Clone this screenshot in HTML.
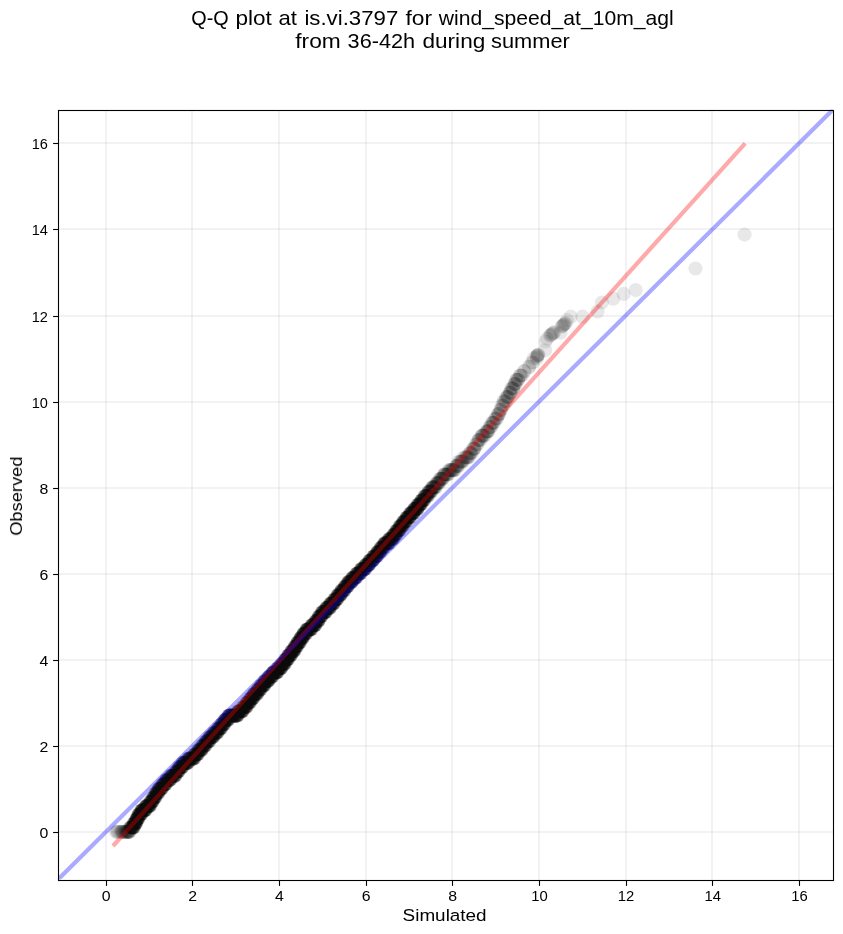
<!DOCTYPE html>
<html><head><meta charset="utf-8"><title>Q-Q plot</title>
<style>
html,body{margin:0;padding:0;background:#fff;}
body{width:843px;height:934px;overflow:hidden;}
svg{display:block;will-change:transform;}
text{font-family:"Liberation Sans",sans-serif;fill:#000;}
</style></head><body>
<svg width="843" height="934" viewBox="0 0 843 934">
<g id="title" opacity="0.999"><text x="191.28" y="24.7" font-size="19.8" textLength="37.43" lengthAdjust="spacingAndGlyphs">Q-Q</text><text x="235.47" y="24.7" font-size="19.8" textLength="36.32" lengthAdjust="spacingAndGlyphs">plot</text><text x="278.42" y="24.7" font-size="19.8" textLength="18.47" lengthAdjust="spacingAndGlyphs">at</text><text x="304.42" y="24.7" font-size="19.8" textLength="93.87" lengthAdjust="spacingAndGlyphs">is.vi.3797</text><text x="405.54" y="24.7" font-size="19.8" textLength="26.62" lengthAdjust="spacingAndGlyphs">for</text><text x="438.86" y="24.7" font-size="19.8" textLength="234.84" lengthAdjust="spacingAndGlyphs">wind_speed_at_10m_agl</text><text x="295.24" y="47.6" font-size="19.8" textLength="45.54" lengthAdjust="spacingAndGlyphs">from</text><text x="347.60" y="47.6" font-size="19.8" textLength="67.51" lengthAdjust="spacingAndGlyphs">36-42h</text><text x="422.48" y="47.6" font-size="19.8" textLength="62.81" lengthAdjust="spacingAndGlyphs">during</text><text x="491.05" y="47.6" font-size="19.8" textLength="78.77" lengthAdjust="spacingAndGlyphs">summer</text></g>
<clipPath id="ax"><rect x="58.0" y="109.54" width="775.0" height="770.0"/></clipPath>
<g stroke="#000" stroke-opacity="0.05" stroke-width="2"><line x1="106" y1="110.5" x2="106" y2="880.5"/><line x1="58.5" y1="832" x2="833.5" y2="832"/><line x1="192" y1="110.5" x2="192" y2="880.5"/><line x1="58.5" y1="746" x2="833.5" y2="746"/><line x1="279" y1="110.5" x2="279" y2="880.5"/><line x1="58.5" y1="660" x2="833.5" y2="660"/><line x1="366" y1="110.5" x2="366" y2="880.5"/><line x1="58.5" y1="574" x2="833.5" y2="574"/><line x1="452" y1="110.5" x2="452" y2="880.5"/><line x1="58.5" y1="488" x2="833.5" y2="488"/><line x1="539" y1="110.5" x2="539" y2="880.5"/><line x1="58.5" y1="402" x2="833.5" y2="402"/><line x1="626" y1="110.5" x2="626" y2="880.5"/><line x1="58.5" y1="316" x2="833.5" y2="316"/><line x1="712" y1="110.5" x2="712" y2="880.5"/><line x1="58.5" y1="229" x2="833.5" y2="229"/><line x1="799" y1="110.5" x2="799" y2="880.5"/><line x1="58.5" y1="143" x2="833.5" y2="143"/></g>
<g clip-path="url(#ax)">
<g id="pts" fill="#000" fill-opacity="0.09"><circle cx="115.8" cy="831.8" r="7.1"/><circle cx="117.5" cy="831.8" r="7.1"/><circle cx="117.6" cy="831.8" r="7.1"/><circle cx="119.4" cy="831.8" r="7.1"/><circle cx="121.2" cy="831.8" r="7.1"/><circle cx="121.5" cy="831.8" r="7.1"/><circle cx="122.1" cy="831.8" r="7.1"/><circle cx="122.5" cy="831.8" r="7.1"/><circle cx="123.0" cy="831.8" r="7.1"/><circle cx="124.2" cy="831.8" r="7.1"/><circle cx="124.2" cy="831.8" r="7.1"/><circle cx="125.3" cy="831.8" r="7.1"/><circle cx="126.0" cy="831.8" r="7.1"/><circle cx="126.1" cy="831.8" r="7.1"/><circle cx="126.9" cy="831.8" r="7.1"/><circle cx="127.1" cy="831.8" r="7.1"/><circle cx="127.2" cy="831.8" r="7.1"/><circle cx="127.8" cy="831.8" r="7.1"/><circle cx="127.9" cy="831.8" r="7.1"/><circle cx="128.4" cy="831.8" r="7.1"/><circle cx="128.6" cy="831.8" r="7.1"/><circle cx="129.1" cy="831.8" r="7.1"/><circle cx="129.2" cy="831.8" r="7.1"/><circle cx="129.3" cy="831.8" r="7.1"/><circle cx="129.8" cy="831.8" r="7.1"/><circle cx="130.2" cy="827.5" r="7.1"/><circle cx="130.2" cy="827.5" r="7.1"/><circle cx="130.3" cy="827.5" r="7.1"/><circle cx="130.6" cy="827.5" r="7.1"/><circle cx="131.0" cy="827.5" r="7.1"/><circle cx="131.2" cy="827.5" r="7.1"/><circle cx="131.3" cy="827.5" r="7.1"/><circle cx="131.6" cy="827.5" r="7.1"/><circle cx="131.7" cy="827.5" r="7.1"/><circle cx="131.7" cy="827.5" r="7.1"/><circle cx="131.8" cy="827.5" r="7.1"/><circle cx="132.2" cy="827.5" r="7.1"/><circle cx="132.3" cy="827.5" r="7.1"/><circle cx="132.4" cy="827.5" r="7.1"/><circle cx="132.5" cy="827.5" r="7.1"/><circle cx="132.8" cy="827.5" r="7.1"/><circle cx="133.0" cy="827.5" r="7.1"/><circle cx="133.1" cy="827.5" r="7.1"/><circle cx="133.2" cy="827.5" r="7.1"/><circle cx="133.4" cy="827.5" r="7.1"/><circle cx="133.6" cy="827.5" r="7.1"/><circle cx="133.6" cy="827.5" r="7.1"/><circle cx="133.7" cy="827.5" r="7.1"/><circle cx="133.8" cy="823.2" r="7.1"/><circle cx="134.0" cy="823.2" r="7.1"/><circle cx="134.0" cy="823.2" r="7.1"/><circle cx="134.2" cy="823.2" r="7.1"/><circle cx="134.4" cy="823.2" r="7.1"/><circle cx="134.4" cy="823.2" r="7.1"/><circle cx="134.6" cy="823.2" r="7.1"/><circle cx="134.7" cy="823.2" r="7.1"/><circle cx="134.9" cy="823.2" r="7.1"/><circle cx="135.0" cy="823.2" r="7.1"/><circle cx="135.2" cy="823.2" r="7.1"/><circle cx="135.3" cy="823.2" r="7.1"/><circle cx="135.3" cy="823.2" r="7.1"/><circle cx="135.5" cy="823.2" r="7.1"/><circle cx="135.6" cy="823.2" r="7.1"/><circle cx="135.7" cy="823.2" r="7.1"/><circle cx="135.8" cy="823.2" r="7.1"/><circle cx="135.9" cy="823.2" r="7.1"/><circle cx="135.9" cy="823.2" r="7.1"/><circle cx="136.1" cy="823.2" r="7.1"/><circle cx="136.3" cy="818.9" r="7.1"/><circle cx="136.4" cy="818.9" r="7.1"/><circle cx="136.5" cy="818.9" r="7.1"/><circle cx="136.6" cy="818.9" r="7.1"/><circle cx="136.8" cy="818.9" r="7.1"/><circle cx="136.8" cy="818.9" r="7.1"/><circle cx="136.9" cy="818.9" r="7.1"/><circle cx="137.0" cy="818.9" r="7.1"/><circle cx="137.1" cy="818.9" r="7.1"/><circle cx="137.2" cy="818.9" r="7.1"/><circle cx="137.3" cy="818.9" r="7.1"/><circle cx="137.4" cy="818.9" r="7.1"/><circle cx="137.5" cy="818.9" r="7.1"/><circle cx="137.7" cy="818.9" r="7.1"/><circle cx="137.8" cy="818.9" r="7.1"/><circle cx="138.1" cy="818.9" r="7.1"/><circle cx="138.1" cy="818.9" r="7.1"/><circle cx="138.2" cy="818.9" r="7.1"/><circle cx="138.4" cy="814.6" r="7.1"/><circle cx="138.4" cy="814.6" r="7.1"/><circle cx="138.8" cy="814.6" r="7.1"/><circle cx="138.9" cy="814.6" r="7.1"/><circle cx="139.0" cy="814.6" r="7.1"/><circle cx="139.0" cy="814.6" r="7.1"/><circle cx="139.3" cy="814.6" r="7.1"/><circle cx="139.4" cy="814.6" r="7.1"/><circle cx="139.5" cy="814.6" r="7.1"/><circle cx="139.7" cy="814.6" r="7.1"/><circle cx="139.8" cy="814.6" r="7.1"/><circle cx="139.8" cy="814.6" r="7.1"/><circle cx="140.0" cy="814.6" r="7.1"/><circle cx="140.1" cy="814.6" r="7.1"/><circle cx="140.2" cy="814.6" r="7.1"/><circle cx="140.5" cy="814.6" r="7.1"/><circle cx="140.6" cy="814.6" r="7.1"/><circle cx="140.8" cy="814.6" r="7.1"/><circle cx="140.9" cy="814.6" r="7.1"/><circle cx="141.0" cy="814.6" r="7.1"/><circle cx="141.0" cy="814.6" r="7.1"/><circle cx="141.2" cy="814.6" r="7.1"/><circle cx="141.5" cy="810.3" r="7.1"/><circle cx="141.6" cy="810.3" r="7.1"/><circle cx="141.7" cy="810.3" r="7.1"/><circle cx="141.8" cy="810.3" r="7.1"/><circle cx="141.8" cy="810.3" r="7.1"/><circle cx="142.0" cy="810.3" r="7.1"/><circle cx="142.1" cy="810.3" r="7.1"/><circle cx="142.5" cy="810.3" r="7.1"/><circle cx="142.5" cy="810.3" r="7.1"/><circle cx="142.5" cy="810.3" r="7.1"/><circle cx="142.7" cy="810.3" r="7.1"/><circle cx="142.8" cy="810.3" r="7.1"/><circle cx="142.9" cy="810.3" r="7.1"/><circle cx="143.2" cy="810.3" r="7.1"/><circle cx="143.4" cy="810.3" r="7.1"/><circle cx="143.4" cy="810.3" r="7.1"/><circle cx="143.5" cy="810.3" r="7.1"/><circle cx="143.8" cy="810.3" r="7.1"/><circle cx="144.0" cy="810.3" r="7.1"/><circle cx="144.0" cy="810.3" r="7.1"/><circle cx="144.0" cy="810.3" r="7.1"/><circle cx="144.1" cy="810.3" r="7.1"/><circle cx="144.3" cy="810.3" r="7.1"/><circle cx="144.7" cy="810.3" r="7.1"/><circle cx="144.7" cy="810.3" r="7.1"/><circle cx="144.9" cy="810.3" r="7.1"/><circle cx="144.9" cy="810.3" r="7.1"/><circle cx="145.1" cy="810.3" r="7.1"/><circle cx="145.3" cy="810.3" r="7.1"/><circle cx="145.5" cy="810.3" r="7.1"/><circle cx="145.6" cy="810.3" r="7.1"/><circle cx="145.6" cy="806.0" r="7.1"/><circle cx="145.9" cy="806.0" r="7.1"/><circle cx="146.0" cy="806.0" r="7.1"/><circle cx="146.2" cy="806.0" r="7.1"/><circle cx="146.2" cy="806.0" r="7.1"/><circle cx="146.5" cy="806.0" r="7.1"/><circle cx="146.7" cy="806.0" r="7.1"/><circle cx="146.8" cy="806.0" r="7.1"/><circle cx="146.9" cy="806.0" r="7.1"/><circle cx="147.1" cy="806.0" r="7.1"/><circle cx="147.1" cy="806.0" r="7.1"/><circle cx="147.3" cy="806.0" r="7.1"/><circle cx="147.5" cy="806.0" r="7.1"/><circle cx="147.7" cy="806.0" r="7.1"/><circle cx="147.8" cy="806.0" r="7.1"/><circle cx="148.0" cy="806.0" r="7.1"/><circle cx="148.2" cy="806.0" r="7.1"/><circle cx="148.3" cy="806.0" r="7.1"/><circle cx="148.4" cy="806.0" r="7.1"/><circle cx="148.4" cy="806.0" r="7.1"/><circle cx="148.6" cy="806.0" r="7.1"/><circle cx="148.9" cy="806.0" r="7.1"/><circle cx="149.1" cy="806.0" r="7.1"/><circle cx="149.2" cy="806.0" r="7.1"/><circle cx="149.2" cy="806.0" r="7.1"/><circle cx="149.3" cy="806.0" r="7.1"/><circle cx="149.6" cy="806.0" r="7.1"/><circle cx="149.7" cy="806.0" r="7.1"/><circle cx="149.8" cy="806.0" r="7.1"/><circle cx="149.9" cy="806.0" r="7.1"/><circle cx="150.2" cy="801.7" r="7.1"/><circle cx="150.4" cy="801.7" r="7.1"/><circle cx="150.4" cy="801.7" r="7.1"/><circle cx="150.5" cy="801.7" r="7.1"/><circle cx="150.7" cy="801.7" r="7.1"/><circle cx="150.9" cy="801.7" r="7.1"/><circle cx="150.9" cy="801.7" r="7.1"/><circle cx="151.3" cy="801.7" r="7.1"/><circle cx="151.3" cy="801.7" r="7.1"/><circle cx="151.5" cy="801.7" r="7.1"/><circle cx="151.5" cy="801.7" r="7.1"/><circle cx="151.9" cy="801.7" r="7.1"/><circle cx="152.0" cy="801.7" r="7.1"/><circle cx="152.0" cy="801.7" r="7.1"/><circle cx="152.3" cy="801.7" r="7.1"/><circle cx="152.4" cy="801.7" r="7.1"/><circle cx="152.5" cy="801.7" r="7.1"/><circle cx="152.6" cy="801.7" r="7.1"/><circle cx="152.7" cy="801.7" r="7.1"/><circle cx="153.0" cy="797.4" r="7.1"/><circle cx="153.0" cy="797.4" r="7.1"/><circle cx="153.3" cy="797.4" r="7.1"/><circle cx="153.3" cy="797.4" r="7.1"/><circle cx="153.7" cy="797.4" r="7.1"/><circle cx="153.7" cy="797.4" r="7.1"/><circle cx="153.9" cy="797.4" r="7.1"/><circle cx="154.0" cy="797.4" r="7.1"/><circle cx="154.2" cy="797.4" r="7.1"/><circle cx="154.2" cy="797.4" r="7.1"/><circle cx="154.6" cy="797.4" r="7.1"/><circle cx="154.6" cy="797.4" r="7.1"/><circle cx="154.7" cy="797.4" r="7.1"/><circle cx="154.8" cy="797.4" r="7.1"/><circle cx="155.1" cy="797.4" r="7.1"/><circle cx="155.1" cy="797.4" r="7.1"/><circle cx="155.3" cy="797.4" r="7.1"/><circle cx="155.5" cy="797.4" r="7.1"/><circle cx="155.7" cy="793.1" r="7.1"/><circle cx="155.9" cy="793.1" r="7.1"/><circle cx="156.1" cy="793.1" r="7.1"/><circle cx="156.1" cy="793.1" r="7.1"/><circle cx="156.4" cy="793.1" r="7.1"/><circle cx="156.4" cy="793.1" r="7.1"/><circle cx="156.6" cy="793.1" r="7.1"/><circle cx="156.8" cy="793.1" r="7.1"/><circle cx="156.9" cy="793.1" r="7.1"/><circle cx="157.0" cy="793.1" r="7.1"/><circle cx="157.2" cy="793.1" r="7.1"/><circle cx="157.4" cy="793.1" r="7.1"/><circle cx="157.4" cy="793.1" r="7.1"/><circle cx="157.6" cy="793.1" r="7.1"/><circle cx="157.9" cy="793.1" r="7.1"/><circle cx="157.9" cy="793.1" r="7.1"/><circle cx="158.2" cy="793.1" r="7.1"/><circle cx="158.4" cy="793.1" r="7.1"/><circle cx="158.5" cy="793.1" r="7.1"/><circle cx="158.7" cy="788.8" r="7.1"/><circle cx="158.7" cy="788.8" r="7.1"/><circle cx="158.8" cy="788.8" r="7.1"/><circle cx="159.1" cy="788.8" r="7.1"/><circle cx="159.2" cy="788.8" r="7.1"/><circle cx="159.4" cy="788.8" r="7.1"/><circle cx="159.4" cy="788.8" r="7.1"/><circle cx="159.6" cy="788.8" r="7.1"/><circle cx="159.9" cy="788.8" r="7.1"/><circle cx="160.0" cy="788.8" r="7.1"/><circle cx="160.1" cy="788.8" r="7.1"/><circle cx="160.4" cy="788.8" r="7.1"/><circle cx="160.5" cy="788.8" r="7.1"/><circle cx="160.5" cy="788.8" r="7.1"/><circle cx="160.9" cy="788.8" r="7.1"/><circle cx="161.0" cy="788.8" r="7.1"/><circle cx="161.1" cy="788.8" r="7.1"/><circle cx="161.2" cy="788.8" r="7.1"/><circle cx="161.4" cy="788.8" r="7.1"/><circle cx="161.4" cy="788.8" r="7.1"/><circle cx="161.7" cy="788.8" r="7.1"/><circle cx="161.9" cy="788.8" r="7.1"/><circle cx="162.0" cy="788.8" r="7.1"/><circle cx="162.2" cy="784.4" r="7.1"/><circle cx="162.6" cy="784.4" r="7.1"/><circle cx="162.7" cy="784.4" r="7.1"/><circle cx="162.7" cy="784.4" r="7.1"/><circle cx="162.9" cy="784.4" r="7.1"/><circle cx="163.1" cy="784.4" r="7.1"/><circle cx="163.2" cy="784.4" r="7.1"/><circle cx="163.4" cy="784.4" r="7.1"/><circle cx="163.5" cy="784.4" r="7.1"/><circle cx="163.6" cy="784.4" r="7.1"/><circle cx="163.8" cy="784.4" r="7.1"/><circle cx="164.1" cy="784.4" r="7.1"/><circle cx="164.2" cy="784.4" r="7.1"/><circle cx="164.3" cy="784.4" r="7.1"/><circle cx="164.5" cy="784.4" r="7.1"/><circle cx="164.6" cy="784.4" r="7.1"/><circle cx="164.8" cy="784.4" r="7.1"/><circle cx="164.8" cy="784.4" r="7.1"/><circle cx="165.1" cy="784.4" r="7.1"/><circle cx="165.4" cy="784.4" r="7.1"/><circle cx="165.4" cy="784.4" r="7.1"/><circle cx="165.5" cy="784.4" r="7.1"/><circle cx="165.6" cy="784.4" r="7.1"/><circle cx="166.0" cy="780.1" r="7.1"/><circle cx="166.0" cy="780.1" r="7.1"/><circle cx="166.1" cy="780.1" r="7.1"/><circle cx="166.5" cy="780.1" r="7.1"/><circle cx="166.6" cy="780.1" r="7.1"/><circle cx="166.8" cy="780.1" r="7.1"/><circle cx="166.9" cy="780.1" r="7.1"/><circle cx="167.1" cy="780.1" r="7.1"/><circle cx="167.2" cy="780.1" r="7.1"/><circle cx="167.4" cy="780.1" r="7.1"/><circle cx="167.8" cy="780.1" r="7.1"/><circle cx="167.9" cy="780.1" r="7.1"/><circle cx="168.1" cy="780.1" r="7.1"/><circle cx="168.2" cy="780.1" r="7.1"/><circle cx="168.3" cy="780.1" r="7.1"/><circle cx="168.6" cy="780.1" r="7.1"/><circle cx="168.8" cy="780.1" r="7.1"/><circle cx="168.8" cy="780.1" r="7.1"/><circle cx="169.0" cy="780.1" r="7.1"/><circle cx="169.0" cy="780.1" r="7.1"/><circle cx="169.4" cy="780.1" r="7.1"/><circle cx="169.4" cy="780.1" r="7.1"/><circle cx="169.7" cy="780.1" r="7.1"/><circle cx="169.7" cy="780.1" r="7.1"/><circle cx="169.9" cy="780.1" r="7.1"/><circle cx="170.2" cy="780.1" r="7.1"/><circle cx="170.4" cy="780.1" r="7.1"/><circle cx="170.6" cy="775.8" r="7.1"/><circle cx="170.8" cy="775.8" r="7.1"/><circle cx="170.9" cy="775.8" r="7.1"/><circle cx="171.1" cy="775.8" r="7.1"/><circle cx="171.3" cy="775.8" r="7.1"/><circle cx="171.4" cy="775.8" r="7.1"/><circle cx="171.6" cy="775.8" r="7.1"/><circle cx="171.8" cy="775.8" r="7.1"/><circle cx="172.0" cy="775.8" r="7.1"/><circle cx="172.2" cy="775.8" r="7.1"/><circle cx="172.3" cy="775.8" r="7.1"/><circle cx="172.5" cy="775.8" r="7.1"/><circle cx="172.6" cy="775.8" r="7.1"/><circle cx="172.7" cy="775.8" r="7.1"/><circle cx="172.9" cy="775.8" r="7.1"/><circle cx="173.0" cy="775.8" r="7.1"/><circle cx="173.2" cy="775.8" r="7.1"/><circle cx="173.3" cy="775.8" r="7.1"/><circle cx="173.5" cy="775.8" r="7.1"/><circle cx="173.7" cy="775.8" r="7.1"/><circle cx="174.0" cy="775.8" r="7.1"/><circle cx="174.2" cy="775.8" r="7.1"/><circle cx="174.5" cy="775.8" r="7.1"/><circle cx="174.5" cy="775.8" r="7.1"/><circle cx="174.8" cy="775.8" r="7.1"/><circle cx="174.8" cy="775.8" r="7.1"/><circle cx="175.1" cy="775.8" r="7.1"/><circle cx="175.2" cy="775.8" r="7.1"/><circle cx="175.4" cy="775.8" r="7.1"/><circle cx="175.5" cy="775.8" r="7.1"/><circle cx="175.9" cy="771.5" r="7.1"/><circle cx="175.9" cy="771.5" r="7.1"/><circle cx="176.0" cy="771.5" r="7.1"/><circle cx="176.2" cy="771.5" r="7.1"/><circle cx="176.4" cy="771.5" r="7.1"/><circle cx="176.6" cy="771.5" r="7.1"/><circle cx="176.7" cy="771.5" r="7.1"/><circle cx="176.9" cy="771.5" r="7.1"/><circle cx="177.0" cy="771.5" r="7.1"/><circle cx="177.3" cy="771.5" r="7.1"/><circle cx="177.4" cy="771.5" r="7.1"/><circle cx="177.7" cy="771.5" r="7.1"/><circle cx="177.8" cy="771.5" r="7.1"/><circle cx="178.0" cy="771.5" r="7.1"/><circle cx="178.1" cy="771.5" r="7.1"/><circle cx="178.3" cy="771.5" r="7.1"/><circle cx="178.3" cy="771.5" r="7.1"/><circle cx="178.6" cy="771.5" r="7.1"/><circle cx="178.7" cy="771.5" r="7.1"/><circle cx="179.1" cy="767.2" r="7.1"/><circle cx="179.1" cy="767.2" r="7.1"/><circle cx="179.3" cy="767.2" r="7.1"/><circle cx="179.3" cy="767.2" r="7.1"/><circle cx="179.5" cy="767.2" r="7.1"/><circle cx="179.7" cy="767.2" r="7.1"/><circle cx="180.0" cy="767.2" r="7.1"/><circle cx="180.1" cy="767.2" r="7.1"/><circle cx="180.3" cy="767.2" r="7.1"/><circle cx="180.4" cy="767.2" r="7.1"/><circle cx="180.4" cy="767.2" r="7.1"/><circle cx="180.8" cy="767.2" r="7.1"/><circle cx="181.1" cy="767.2" r="7.1"/><circle cx="181.3" cy="767.2" r="7.1"/><circle cx="181.3" cy="767.2" r="7.1"/><circle cx="181.4" cy="767.2" r="7.1"/><circle cx="181.8" cy="767.2" r="7.1"/><circle cx="181.8" cy="767.2" r="7.1"/><circle cx="182.0" cy="767.2" r="7.1"/><circle cx="182.0" cy="767.2" r="7.1"/><circle cx="182.3" cy="767.2" r="7.1"/><circle cx="182.4" cy="767.2" r="7.1"/><circle cx="182.6" cy="762.9" r="7.1"/><circle cx="182.6" cy="762.9" r="7.1"/><circle cx="183.0" cy="762.9" r="7.1"/><circle cx="183.1" cy="762.9" r="7.1"/><circle cx="183.4" cy="762.9" r="7.1"/><circle cx="183.5" cy="762.9" r="7.1"/><circle cx="183.7" cy="762.9" r="7.1"/><circle cx="183.8" cy="762.9" r="7.1"/><circle cx="183.9" cy="762.9" r="7.1"/><circle cx="184.3" cy="762.9" r="7.1"/><circle cx="184.3" cy="762.9" r="7.1"/><circle cx="184.4" cy="762.9" r="7.1"/><circle cx="184.7" cy="762.9" r="7.1"/><circle cx="184.8" cy="762.9" r="7.1"/><circle cx="185.1" cy="762.9" r="7.1"/><circle cx="185.2" cy="762.9" r="7.1"/><circle cx="185.3" cy="762.9" r="7.1"/><circle cx="185.7" cy="762.9" r="7.1"/><circle cx="185.7" cy="762.9" r="7.1"/><circle cx="185.9" cy="762.9" r="7.1"/><circle cx="186.0" cy="762.9" r="7.1"/><circle cx="186.4" cy="762.9" r="7.1"/><circle cx="186.5" cy="762.9" r="7.1"/><circle cx="186.5" cy="762.9" r="7.1"/><circle cx="186.6" cy="762.9" r="7.1"/><circle cx="186.8" cy="762.9" r="7.1"/><circle cx="187.0" cy="762.9" r="7.1"/><circle cx="187.1" cy="762.9" r="7.1"/><circle cx="187.4" cy="762.9" r="7.1"/><circle cx="187.4" cy="762.9" r="7.1"/><circle cx="187.7" cy="762.9" r="7.1"/><circle cx="187.9" cy="762.9" r="7.1"/><circle cx="188.1" cy="762.9" r="7.1"/><circle cx="188.3" cy="758.6" r="7.1"/><circle cx="188.5" cy="758.6" r="7.1"/><circle cx="188.5" cy="758.6" r="7.1"/><circle cx="188.7" cy="758.6" r="7.1"/><circle cx="189.0" cy="758.6" r="7.1"/><circle cx="189.0" cy="758.6" r="7.1"/><circle cx="189.3" cy="758.6" r="7.1"/><circle cx="189.6" cy="758.6" r="7.1"/><circle cx="189.7" cy="758.6" r="7.1"/><circle cx="189.8" cy="758.6" r="7.1"/><circle cx="189.8" cy="758.6" r="7.1"/><circle cx="190.1" cy="758.6" r="7.1"/><circle cx="190.3" cy="758.6" r="7.1"/><circle cx="190.4" cy="758.6" r="7.1"/><circle cx="190.5" cy="758.6" r="7.1"/><circle cx="190.7" cy="758.6" r="7.1"/><circle cx="190.8" cy="758.6" r="7.1"/><circle cx="191.0" cy="758.6" r="7.1"/><circle cx="191.1" cy="758.6" r="7.1"/><circle cx="191.5" cy="758.6" r="7.1"/><circle cx="191.7" cy="758.6" r="7.1"/><circle cx="191.8" cy="758.6" r="7.1"/><circle cx="191.8" cy="758.6" r="7.1"/><circle cx="192.2" cy="758.6" r="7.1"/><circle cx="192.2" cy="758.6" r="7.1"/><circle cx="192.5" cy="758.6" r="7.1"/><circle cx="192.5" cy="758.6" r="7.1"/><circle cx="192.7" cy="758.6" r="7.1"/><circle cx="193.0" cy="758.6" r="7.1"/><circle cx="193.2" cy="758.6" r="7.1"/><circle cx="193.4" cy="758.6" r="7.1"/><circle cx="193.6" cy="758.6" r="7.1"/><circle cx="193.6" cy="758.6" r="7.1"/><circle cx="193.9" cy="758.6" r="7.1"/><circle cx="194.0" cy="758.6" r="7.1"/><circle cx="194.1" cy="758.6" r="7.1"/><circle cx="194.3" cy="758.6" r="7.1"/><circle cx="194.7" cy="754.3" r="7.1"/><circle cx="194.7" cy="754.3" r="7.1"/><circle cx="194.7" cy="754.3" r="7.1"/><circle cx="195.1" cy="754.3" r="7.1"/><circle cx="195.3" cy="754.3" r="7.1"/><circle cx="195.5" cy="754.3" r="7.1"/><circle cx="195.5" cy="754.3" r="7.1"/><circle cx="195.5" cy="754.3" r="7.1"/><circle cx="195.9" cy="754.3" r="7.1"/><circle cx="196.2" cy="754.3" r="7.1"/><circle cx="196.3" cy="754.3" r="7.1"/><circle cx="196.3" cy="754.3" r="7.1"/><circle cx="196.5" cy="754.3" r="7.1"/><circle cx="196.7" cy="754.3" r="7.1"/><circle cx="196.8" cy="754.3" r="7.1"/><circle cx="197.1" cy="754.3" r="7.1"/><circle cx="197.2" cy="754.3" r="7.1"/><circle cx="197.2" cy="754.3" r="7.1"/><circle cx="197.6" cy="754.3" r="7.1"/><circle cx="197.7" cy="754.3" r="7.1"/><circle cx="197.7" cy="754.3" r="7.1"/><circle cx="197.9" cy="754.3" r="7.1"/><circle cx="198.2" cy="750.0" r="7.1"/><circle cx="198.3" cy="750.0" r="7.1"/><circle cx="198.6" cy="750.0" r="7.1"/><circle cx="198.7" cy="750.0" r="7.1"/><circle cx="198.8" cy="750.0" r="7.1"/><circle cx="199.0" cy="750.0" r="7.1"/><circle cx="199.3" cy="750.0" r="7.1"/><circle cx="199.4" cy="750.0" r="7.1"/><circle cx="199.7" cy="750.0" r="7.1"/><circle cx="199.7" cy="750.0" r="7.1"/><circle cx="199.9" cy="750.0" r="7.1"/><circle cx="200.0" cy="750.0" r="7.1"/><circle cx="200.4" cy="750.0" r="7.1"/><circle cx="200.5" cy="750.0" r="7.1"/><circle cx="200.6" cy="750.0" r="7.1"/><circle cx="200.7" cy="750.0" r="7.1"/><circle cx="200.8" cy="750.0" r="7.1"/><circle cx="201.1" cy="750.0" r="7.1"/><circle cx="201.1" cy="750.0" r="7.1"/><circle cx="201.4" cy="750.0" r="7.1"/><circle cx="201.5" cy="750.0" r="7.1"/><circle cx="201.7" cy="750.0" r="7.1"/><circle cx="201.9" cy="750.0" r="7.1"/><circle cx="202.1" cy="745.7" r="7.1"/><circle cx="202.2" cy="745.7" r="7.1"/><circle cx="202.3" cy="745.7" r="7.1"/><circle cx="202.5" cy="745.7" r="7.1"/><circle cx="202.6" cy="745.7" r="7.1"/><circle cx="202.9" cy="745.7" r="7.1"/><circle cx="203.2" cy="745.7" r="7.1"/><circle cx="203.4" cy="745.7" r="7.1"/><circle cx="203.4" cy="745.7" r="7.1"/><circle cx="203.6" cy="745.7" r="7.1"/><circle cx="203.9" cy="745.7" r="7.1"/><circle cx="204.0" cy="745.7" r="7.1"/><circle cx="204.2" cy="745.7" r="7.1"/><circle cx="204.3" cy="745.7" r="7.1"/><circle cx="204.4" cy="745.7" r="7.1"/><circle cx="204.7" cy="745.7" r="7.1"/><circle cx="204.8" cy="745.7" r="7.1"/><circle cx="205.0" cy="745.7" r="7.1"/><circle cx="205.3" cy="745.7" r="7.1"/><circle cx="205.4" cy="745.7" r="7.1"/><circle cx="205.4" cy="745.7" r="7.1"/><circle cx="205.8" cy="741.4" r="7.1"/><circle cx="206.0" cy="741.4" r="7.1"/><circle cx="206.0" cy="741.4" r="7.1"/><circle cx="206.1" cy="741.4" r="7.1"/><circle cx="206.4" cy="741.4" r="7.1"/><circle cx="206.5" cy="741.4" r="7.1"/><circle cx="206.8" cy="741.4" r="7.1"/><circle cx="206.9" cy="741.4" r="7.1"/><circle cx="207.0" cy="741.4" r="7.1"/><circle cx="207.2" cy="741.4" r="7.1"/><circle cx="207.4" cy="741.4" r="7.1"/><circle cx="207.5" cy="741.4" r="7.1"/><circle cx="207.6" cy="741.4" r="7.1"/><circle cx="207.7" cy="741.4" r="7.1"/><circle cx="207.9" cy="741.4" r="7.1"/><circle cx="208.1" cy="741.4" r="7.1"/><circle cx="208.3" cy="741.4" r="7.1"/><circle cx="208.7" cy="741.4" r="7.1"/><circle cx="208.8" cy="741.4" r="7.1"/><circle cx="209.0" cy="741.4" r="7.1"/><circle cx="209.2" cy="741.4" r="7.1"/><circle cx="209.3" cy="741.4" r="7.1"/><circle cx="209.4" cy="737.1" r="7.1"/><circle cx="209.6" cy="737.1" r="7.1"/><circle cx="209.6" cy="737.1" r="7.1"/><circle cx="210.0" cy="737.1" r="7.1"/><circle cx="210.3" cy="737.1" r="7.1"/><circle cx="210.3" cy="737.1" r="7.1"/><circle cx="210.4" cy="737.1" r="7.1"/><circle cx="210.6" cy="737.1" r="7.1"/><circle cx="210.8" cy="737.1" r="7.1"/><circle cx="211.1" cy="737.1" r="7.1"/><circle cx="211.3" cy="737.1" r="7.1"/><circle cx="211.4" cy="737.1" r="7.1"/><circle cx="211.7" cy="737.1" r="7.1"/><circle cx="211.8" cy="737.1" r="7.1"/><circle cx="211.8" cy="737.1" r="7.1"/><circle cx="212.0" cy="737.1" r="7.1"/><circle cx="212.3" cy="737.1" r="7.1"/><circle cx="212.4" cy="737.1" r="7.1"/><circle cx="212.6" cy="737.1" r="7.1"/><circle cx="212.7" cy="737.1" r="7.1"/><circle cx="212.7" cy="737.1" r="7.1"/><circle cx="213.1" cy="737.1" r="7.1"/><circle cx="213.2" cy="737.1" r="7.1"/><circle cx="213.4" cy="737.1" r="7.1"/><circle cx="213.6" cy="732.8" r="7.1"/><circle cx="213.9" cy="732.8" r="7.1"/><circle cx="213.9" cy="732.8" r="7.1"/><circle cx="214.1" cy="732.8" r="7.1"/><circle cx="214.2" cy="732.8" r="7.1"/><circle cx="214.4" cy="732.8" r="7.1"/><circle cx="214.5" cy="732.8" r="7.1"/><circle cx="214.8" cy="732.8" r="7.1"/><circle cx="215.0" cy="732.8" r="7.1"/><circle cx="215.1" cy="732.8" r="7.1"/><circle cx="215.4" cy="732.8" r="7.1"/><circle cx="215.5" cy="732.8" r="7.1"/><circle cx="215.6" cy="732.8" r="7.1"/><circle cx="215.8" cy="732.8" r="7.1"/><circle cx="216.0" cy="732.8" r="7.1"/><circle cx="216.2" cy="732.8" r="7.1"/><circle cx="216.2" cy="732.8" r="7.1"/><circle cx="216.6" cy="732.8" r="7.1"/><circle cx="216.6" cy="732.8" r="7.1"/><circle cx="216.9" cy="732.8" r="7.1"/><circle cx="217.0" cy="732.8" r="7.1"/><circle cx="217.0" cy="732.8" r="7.1"/><circle cx="217.3" cy="732.8" r="7.1"/><circle cx="217.5" cy="732.8" r="7.1"/><circle cx="217.8" cy="732.8" r="7.1"/><circle cx="217.9" cy="728.5" r="7.1"/><circle cx="218.2" cy="728.5" r="7.1"/><circle cx="218.3" cy="728.5" r="7.1"/><circle cx="218.3" cy="728.5" r="7.1"/><circle cx="218.4" cy="728.5" r="7.1"/><circle cx="218.6" cy="728.5" r="7.1"/><circle cx="218.7" cy="728.5" r="7.1"/><circle cx="219.1" cy="728.5" r="7.1"/><circle cx="219.1" cy="728.5" r="7.1"/><circle cx="219.3" cy="728.5" r="7.1"/><circle cx="219.5" cy="728.5" r="7.1"/><circle cx="219.7" cy="728.5" r="7.1"/><circle cx="220.0" cy="728.5" r="7.1"/><circle cx="220.1" cy="728.5" r="7.1"/><circle cx="220.2" cy="728.5" r="7.1"/><circle cx="220.3" cy="728.5" r="7.1"/><circle cx="220.5" cy="728.5" r="7.1"/><circle cx="220.7" cy="728.5" r="7.1"/><circle cx="220.9" cy="728.5" r="7.1"/><circle cx="221.0" cy="728.5" r="7.1"/><circle cx="221.3" cy="728.5" r="7.1"/><circle cx="221.5" cy="724.2" r="7.1"/><circle cx="221.6" cy="724.2" r="7.1"/><circle cx="221.6" cy="724.2" r="7.1"/><circle cx="221.9" cy="724.2" r="7.1"/><circle cx="222.0" cy="724.2" r="7.1"/><circle cx="222.2" cy="724.2" r="7.1"/><circle cx="222.4" cy="724.2" r="7.1"/><circle cx="222.8" cy="724.2" r="7.1"/><circle cx="222.9" cy="724.2" r="7.1"/><circle cx="223.1" cy="724.2" r="7.1"/><circle cx="223.2" cy="724.2" r="7.1"/><circle cx="223.3" cy="724.2" r="7.1"/><circle cx="223.7" cy="724.2" r="7.1"/><circle cx="223.7" cy="724.2" r="7.1"/><circle cx="223.7" cy="724.2" r="7.1"/><circle cx="224.1" cy="724.2" r="7.1"/><circle cx="224.1" cy="724.2" r="7.1"/><circle cx="224.5" cy="724.2" r="7.1"/><circle cx="224.6" cy="719.9" r="7.1"/><circle cx="224.6" cy="719.9" r="7.1"/><circle cx="224.9" cy="719.9" r="7.1"/><circle cx="225.1" cy="719.9" r="7.1"/><circle cx="225.3" cy="719.9" r="7.1"/><circle cx="225.4" cy="719.9" r="7.1"/><circle cx="225.5" cy="719.9" r="7.1"/><circle cx="225.7" cy="719.9" r="7.1"/><circle cx="226.0" cy="719.9" r="7.1"/><circle cx="226.1" cy="719.9" r="7.1"/><circle cx="226.3" cy="719.9" r="7.1"/><circle cx="226.5" cy="719.9" r="7.1"/><circle cx="226.5" cy="719.9" r="7.1"/><circle cx="226.6" cy="719.9" r="7.1"/><circle cx="227.0" cy="719.9" r="7.1"/><circle cx="227.0" cy="719.9" r="7.1"/><circle cx="227.3" cy="719.9" r="7.1"/><circle cx="227.3" cy="719.9" r="7.1"/><circle cx="227.5" cy="719.9" r="7.1"/><circle cx="227.8" cy="719.9" r="7.1"/><circle cx="228.0" cy="719.9" r="7.1"/><circle cx="228.0" cy="719.9" r="7.1"/><circle cx="228.4" cy="719.9" r="7.1"/><circle cx="228.6" cy="715.6" r="7.1"/><circle cx="228.7" cy="715.6" r="7.1"/><circle cx="228.9" cy="715.6" r="7.1"/><circle cx="228.9" cy="715.6" r="7.1"/><circle cx="229.0" cy="715.6" r="7.1"/><circle cx="229.3" cy="715.6" r="7.1"/><circle cx="229.4" cy="715.6" r="7.1"/><circle cx="229.6" cy="715.6" r="7.1"/><circle cx="229.9" cy="715.6" r="7.1"/><circle cx="229.9" cy="715.6" r="7.1"/><circle cx="230.3" cy="715.6" r="7.1"/><circle cx="230.3" cy="715.6" r="7.1"/><circle cx="230.4" cy="715.6" r="7.1"/><circle cx="230.8" cy="715.6" r="7.1"/><circle cx="230.9" cy="715.6" r="7.1"/><circle cx="231.0" cy="715.6" r="7.1"/><circle cx="231.2" cy="715.6" r="7.1"/><circle cx="231.6" cy="715.6" r="7.1"/><circle cx="231.7" cy="715.6" r="7.1"/><circle cx="231.7" cy="715.6" r="7.1"/><circle cx="232.0" cy="715.6" r="7.1"/><circle cx="232.1" cy="715.6" r="7.1"/><circle cx="232.2" cy="715.6" r="7.1"/><circle cx="232.4" cy="715.6" r="7.1"/><circle cx="232.6" cy="715.6" r="7.1"/><circle cx="232.8" cy="715.6" r="7.1"/><circle cx="233.0" cy="715.6" r="7.1"/><circle cx="233.1" cy="715.6" r="7.1"/><circle cx="233.1" cy="715.6" r="7.1"/><circle cx="233.5" cy="715.6" r="7.1"/><circle cx="233.7" cy="715.6" r="7.1"/><circle cx="233.8" cy="715.6" r="7.1"/><circle cx="233.9" cy="715.6" r="7.1"/><circle cx="234.2" cy="715.6" r="7.1"/><circle cx="234.2" cy="715.6" r="7.1"/><circle cx="234.6" cy="715.6" r="7.1"/><circle cx="234.7" cy="715.6" r="7.1"/><circle cx="234.7" cy="715.6" r="7.1"/><circle cx="235.1" cy="715.6" r="7.1"/><circle cx="235.2" cy="715.6" r="7.1"/><circle cx="235.3" cy="715.6" r="7.1"/><circle cx="235.6" cy="715.6" r="7.1"/><circle cx="235.7" cy="715.6" r="7.1"/><circle cx="235.7" cy="715.6" r="7.1"/><circle cx="236.1" cy="715.6" r="7.1"/><circle cx="236.2" cy="715.6" r="7.1"/><circle cx="236.3" cy="715.6" r="7.1"/><circle cx="236.4" cy="715.6" r="7.1"/><circle cx="236.8" cy="715.6" r="7.1"/><circle cx="237.0" cy="715.6" r="7.1"/><circle cx="237.0" cy="715.6" r="7.1"/><circle cx="237.3" cy="715.6" r="7.1"/><circle cx="237.3" cy="715.6" r="7.1"/><circle cx="237.5" cy="715.6" r="7.1"/><circle cx="237.7" cy="715.6" r="7.1"/><circle cx="237.8" cy="715.6" r="7.1"/><circle cx="238.1" cy="711.3" r="7.1"/><circle cx="238.2" cy="711.3" r="7.1"/><circle cx="238.2" cy="711.3" r="7.1"/><circle cx="238.7" cy="711.3" r="7.1"/><circle cx="238.7" cy="711.3" r="7.1"/><circle cx="238.9" cy="711.3" r="7.1"/><circle cx="239.0" cy="711.3" r="7.1"/><circle cx="239.1" cy="711.3" r="7.1"/><circle cx="239.5" cy="711.3" r="7.1"/><circle cx="239.6" cy="711.3" r="7.1"/><circle cx="239.8" cy="711.3" r="7.1"/><circle cx="239.9" cy="711.3" r="7.1"/><circle cx="240.1" cy="711.3" r="7.1"/><circle cx="240.2" cy="711.3" r="7.1"/><circle cx="240.3" cy="711.3" r="7.1"/><circle cx="240.5" cy="711.3" r="7.1"/><circle cx="240.8" cy="711.3" r="7.1"/><circle cx="240.9" cy="711.3" r="7.1"/><circle cx="241.1" cy="711.3" r="7.1"/><circle cx="241.5" cy="711.3" r="7.1"/><circle cx="241.5" cy="711.3" r="7.1"/><circle cx="241.8" cy="711.3" r="7.1"/><circle cx="241.9" cy="711.3" r="7.1"/><circle cx="242.0" cy="711.3" r="7.1"/><circle cx="242.2" cy="711.3" r="7.1"/><circle cx="242.2" cy="711.3" r="7.1"/><circle cx="242.5" cy="711.3" r="7.1"/><circle cx="242.8" cy="711.3" r="7.1"/><circle cx="242.9" cy="707.0" r="7.1"/><circle cx="242.9" cy="707.0" r="7.1"/><circle cx="243.0" cy="707.0" r="7.1"/><circle cx="243.5" cy="707.0" r="7.1"/><circle cx="243.6" cy="707.0" r="7.1"/><circle cx="243.8" cy="707.0" r="7.1"/><circle cx="243.8" cy="707.0" r="7.1"/><circle cx="244.2" cy="707.0" r="7.1"/><circle cx="244.3" cy="707.0" r="7.1"/><circle cx="244.3" cy="707.0" r="7.1"/><circle cx="244.4" cy="707.0" r="7.1"/><circle cx="244.8" cy="707.0" r="7.1"/><circle cx="245.1" cy="707.0" r="7.1"/><circle cx="245.1" cy="707.0" r="7.1"/><circle cx="245.2" cy="707.0" r="7.1"/><circle cx="245.5" cy="707.0" r="7.1"/><circle cx="245.5" cy="707.0" r="7.1"/><circle cx="245.8" cy="707.0" r="7.1"/><circle cx="245.9" cy="707.0" r="7.1"/><circle cx="245.9" cy="707.0" r="7.1"/><circle cx="246.3" cy="707.0" r="7.1"/><circle cx="246.4" cy="707.0" r="7.1"/><circle cx="246.8" cy="707.0" r="7.1"/><circle cx="246.9" cy="702.6" r="7.1"/><circle cx="246.9" cy="702.6" r="7.1"/><circle cx="247.2" cy="702.6" r="7.1"/><circle cx="247.2" cy="702.6" r="7.1"/><circle cx="247.5" cy="702.6" r="7.1"/><circle cx="247.6" cy="702.6" r="7.1"/><circle cx="247.8" cy="702.6" r="7.1"/><circle cx="247.8" cy="702.6" r="7.1"/><circle cx="248.2" cy="702.6" r="7.1"/><circle cx="248.3" cy="702.6" r="7.1"/><circle cx="248.4" cy="702.6" r="7.1"/><circle cx="248.5" cy="702.6" r="7.1"/><circle cx="248.8" cy="702.6" r="7.1"/><circle cx="249.1" cy="702.6" r="7.1"/><circle cx="249.1" cy="702.6" r="7.1"/><circle cx="249.1" cy="702.6" r="7.1"/><circle cx="249.6" cy="702.6" r="7.1"/><circle cx="249.6" cy="702.6" r="7.1"/><circle cx="249.7" cy="702.6" r="7.1"/><circle cx="250.0" cy="702.6" r="7.1"/><circle cx="250.1" cy="702.6" r="7.1"/><circle cx="250.2" cy="698.3" r="7.1"/><circle cx="250.4" cy="698.3" r="7.1"/><circle cx="250.6" cy="698.3" r="7.1"/><circle cx="250.7" cy="698.3" r="7.1"/><circle cx="250.9" cy="698.3" r="7.1"/><circle cx="251.1" cy="698.3" r="7.1"/><circle cx="251.3" cy="698.3" r="7.1"/><circle cx="251.5" cy="698.3" r="7.1"/><circle cx="251.7" cy="698.3" r="7.1"/><circle cx="251.8" cy="698.3" r="7.1"/><circle cx="251.9" cy="698.3" r="7.1"/><circle cx="252.1" cy="698.3" r="7.1"/><circle cx="252.1" cy="698.3" r="7.1"/><circle cx="252.5" cy="698.3" r="7.1"/><circle cx="252.6" cy="698.3" r="7.1"/><circle cx="252.6" cy="698.3" r="7.1"/><circle cx="253.0" cy="698.3" r="7.1"/><circle cx="253.1" cy="698.3" r="7.1"/><circle cx="253.2" cy="698.3" r="7.1"/><circle cx="253.3" cy="698.3" r="7.1"/><circle cx="253.6" cy="694.0" r="7.1"/><circle cx="253.7" cy="694.0" r="7.1"/><circle cx="253.9" cy="694.0" r="7.1"/><circle cx="254.0" cy="694.0" r="7.1"/><circle cx="254.2" cy="694.0" r="7.1"/><circle cx="254.2" cy="694.0" r="7.1"/><circle cx="254.4" cy="694.0" r="7.1"/><circle cx="254.6" cy="694.0" r="7.1"/><circle cx="254.9" cy="694.0" r="7.1"/><circle cx="255.0" cy="694.0" r="7.1"/><circle cx="255.1" cy="694.0" r="7.1"/><circle cx="255.5" cy="694.0" r="7.1"/><circle cx="255.6" cy="694.0" r="7.1"/><circle cx="255.8" cy="694.0" r="7.1"/><circle cx="255.9" cy="694.0" r="7.1"/><circle cx="255.9" cy="694.0" r="7.1"/><circle cx="256.2" cy="694.0" r="7.1"/><circle cx="256.4" cy="694.0" r="7.1"/><circle cx="256.6" cy="694.0" r="7.1"/><circle cx="256.9" cy="694.0" r="7.1"/><circle cx="256.9" cy="694.0" r="7.1"/><circle cx="257.1" cy="694.0" r="7.1"/><circle cx="257.1" cy="694.0" r="7.1"/><circle cx="257.3" cy="689.7" r="7.1"/><circle cx="257.4" cy="689.7" r="7.1"/><circle cx="257.6" cy="689.7" r="7.1"/><circle cx="257.9" cy="689.7" r="7.1"/><circle cx="257.9" cy="689.7" r="7.1"/><circle cx="258.4" cy="689.7" r="7.1"/><circle cx="258.4" cy="689.7" r="7.1"/><circle cx="258.5" cy="689.7" r="7.1"/><circle cx="258.7" cy="689.7" r="7.1"/><circle cx="259.0" cy="689.7" r="7.1"/><circle cx="259.0" cy="689.7" r="7.1"/><circle cx="259.1" cy="689.7" r="7.1"/><circle cx="259.5" cy="689.7" r="7.1"/><circle cx="259.5" cy="689.7" r="7.1"/><circle cx="259.7" cy="689.7" r="7.1"/><circle cx="259.9" cy="689.7" r="7.1"/><circle cx="259.9" cy="689.7" r="7.1"/><circle cx="260.2" cy="689.7" r="7.1"/><circle cx="260.2" cy="689.7" r="7.1"/><circle cx="260.5" cy="689.7" r="7.1"/><circle cx="260.6" cy="689.7" r="7.1"/><circle cx="260.9" cy="685.4" r="7.1"/><circle cx="260.9" cy="685.4" r="7.1"/><circle cx="261.2" cy="685.4" r="7.1"/><circle cx="261.3" cy="685.4" r="7.1"/><circle cx="261.6" cy="685.4" r="7.1"/><circle cx="261.8" cy="685.4" r="7.1"/><circle cx="262.0" cy="685.4" r="7.1"/><circle cx="262.0" cy="685.4" r="7.1"/><circle cx="262.2" cy="685.4" r="7.1"/><circle cx="262.2" cy="685.4" r="7.1"/><circle cx="262.6" cy="685.4" r="7.1"/><circle cx="262.7" cy="685.4" r="7.1"/><circle cx="262.8" cy="685.4" r="7.1"/><circle cx="263.0" cy="685.4" r="7.1"/><circle cx="263.3" cy="685.4" r="7.1"/><circle cx="263.3" cy="685.4" r="7.1"/><circle cx="263.3" cy="685.4" r="7.1"/><circle cx="263.5" cy="685.4" r="7.1"/><circle cx="263.9" cy="685.4" r="7.1"/><circle cx="264.0" cy="685.4" r="7.1"/><circle cx="264.2" cy="685.4" r="7.1"/><circle cx="264.3" cy="685.4" r="7.1"/><circle cx="264.3" cy="685.4" r="7.1"/><circle cx="264.7" cy="681.1" r="7.1"/><circle cx="264.7" cy="681.1" r="7.1"/><circle cx="264.9" cy="681.1" r="7.1"/><circle cx="265.1" cy="681.1" r="7.1"/><circle cx="265.2" cy="681.1" r="7.1"/><circle cx="265.6" cy="681.1" r="7.1"/><circle cx="265.6" cy="681.1" r="7.1"/><circle cx="265.8" cy="681.1" r="7.1"/><circle cx="265.8" cy="681.1" r="7.1"/><circle cx="266.1" cy="681.1" r="7.1"/><circle cx="266.4" cy="681.1" r="7.1"/><circle cx="266.5" cy="681.1" r="7.1"/><circle cx="266.7" cy="681.1" r="7.1"/><circle cx="266.8" cy="681.1" r="7.1"/><circle cx="266.9" cy="681.1" r="7.1"/><circle cx="267.2" cy="681.1" r="7.1"/><circle cx="267.3" cy="681.1" r="7.1"/><circle cx="267.3" cy="681.1" r="7.1"/><circle cx="267.6" cy="681.1" r="7.1"/><circle cx="267.8" cy="681.1" r="7.1"/><circle cx="267.8" cy="681.1" r="7.1"/><circle cx="267.9" cy="681.1" r="7.1"/><circle cx="268.1" cy="681.1" r="7.1"/><circle cx="268.4" cy="681.1" r="7.1"/><circle cx="268.4" cy="681.1" r="7.1"/><circle cx="268.6" cy="676.8" r="7.1"/><circle cx="268.7" cy="676.8" r="7.1"/><circle cx="269.1" cy="676.8" r="7.1"/><circle cx="269.3" cy="676.8" r="7.1"/><circle cx="269.3" cy="676.8" r="7.1"/><circle cx="269.4" cy="676.8" r="7.1"/><circle cx="269.6" cy="676.8" r="7.1"/><circle cx="269.9" cy="676.8" r="7.1"/><circle cx="269.9" cy="676.8" r="7.1"/><circle cx="270.2" cy="676.8" r="7.1"/><circle cx="270.4" cy="676.8" r="7.1"/><circle cx="270.5" cy="676.8" r="7.1"/><circle cx="270.7" cy="676.8" r="7.1"/><circle cx="270.7" cy="676.8" r="7.1"/><circle cx="270.7" cy="676.8" r="7.1"/><circle cx="271.1" cy="676.8" r="7.1"/><circle cx="271.3" cy="676.8" r="7.1"/><circle cx="271.4" cy="676.8" r="7.1"/><circle cx="271.4" cy="676.8" r="7.1"/><circle cx="271.8" cy="676.8" r="7.1"/><circle cx="271.9" cy="676.8" r="7.1"/><circle cx="272.1" cy="676.8" r="7.1"/><circle cx="272.2" cy="676.8" r="7.1"/><circle cx="272.3" cy="676.8" r="7.1"/><circle cx="272.4" cy="676.8" r="7.1"/><circle cx="272.6" cy="672.5" r="7.1"/><circle cx="272.9" cy="672.5" r="7.1"/><circle cx="273.1" cy="672.5" r="7.1"/><circle cx="273.2" cy="672.5" r="7.1"/><circle cx="273.2" cy="672.5" r="7.1"/><circle cx="273.4" cy="672.5" r="7.1"/><circle cx="273.5" cy="672.5" r="7.1"/><circle cx="273.6" cy="672.5" r="7.1"/><circle cx="274.0" cy="672.5" r="7.1"/><circle cx="274.0" cy="672.5" r="7.1"/><circle cx="274.1" cy="672.5" r="7.1"/><circle cx="274.2" cy="672.5" r="7.1"/><circle cx="274.3" cy="672.5" r="7.1"/><circle cx="274.5" cy="672.5" r="7.1"/><circle cx="274.8" cy="672.5" r="7.1"/><circle cx="274.9" cy="672.5" r="7.1"/><circle cx="275.0" cy="672.5" r="7.1"/><circle cx="275.3" cy="672.5" r="7.1"/><circle cx="275.4" cy="672.5" r="7.1"/><circle cx="275.7" cy="672.5" r="7.1"/><circle cx="275.7" cy="672.5" r="7.1"/><circle cx="276.0" cy="672.5" r="7.1"/><circle cx="276.1" cy="672.5" r="7.1"/><circle cx="276.2" cy="672.5" r="7.1"/><circle cx="276.2" cy="672.5" r="7.1"/><circle cx="276.6" cy="672.5" r="7.1"/><circle cx="276.6" cy="672.5" r="7.1"/><circle cx="276.7" cy="672.5" r="7.1"/><circle cx="277.0" cy="672.5" r="7.1"/><circle cx="277.2" cy="672.5" r="7.1"/><circle cx="277.2" cy="672.5" r="7.1"/><circle cx="277.4" cy="672.5" r="7.1"/><circle cx="277.5" cy="668.2" r="7.1"/><circle cx="277.6" cy="668.2" r="7.1"/><circle cx="277.9" cy="668.2" r="7.1"/><circle cx="278.1" cy="668.2" r="7.1"/><circle cx="278.2" cy="668.2" r="7.1"/><circle cx="278.4" cy="668.2" r="7.1"/><circle cx="278.6" cy="668.2" r="7.1"/><circle cx="278.8" cy="668.2" r="7.1"/><circle cx="278.8" cy="668.2" r="7.1"/><circle cx="278.9" cy="668.2" r="7.1"/><circle cx="279.1" cy="668.2" r="7.1"/><circle cx="279.4" cy="668.2" r="7.1"/><circle cx="279.6" cy="668.2" r="7.1"/><circle cx="279.7" cy="668.2" r="7.1"/><circle cx="279.7" cy="668.2" r="7.1"/><circle cx="279.9" cy="668.2" r="7.1"/><circle cx="280.0" cy="668.2" r="7.1"/><circle cx="280.3" cy="668.2" r="7.1"/><circle cx="280.3" cy="668.2" r="7.1"/><circle cx="280.7" cy="668.2" r="7.1"/><circle cx="280.8" cy="668.2" r="7.1"/><circle cx="280.9" cy="668.2" r="7.1"/><circle cx="280.9" cy="668.2" r="7.1"/><circle cx="281.1" cy="668.2" r="7.1"/><circle cx="281.4" cy="668.2" r="7.1"/><circle cx="281.6" cy="663.9" r="7.1"/><circle cx="281.6" cy="663.9" r="7.1"/><circle cx="281.9" cy="663.9" r="7.1"/><circle cx="282.1" cy="663.9" r="7.1"/><circle cx="282.2" cy="663.9" r="7.1"/><circle cx="282.4" cy="663.9" r="7.1"/><circle cx="282.5" cy="663.9" r="7.1"/><circle cx="282.6" cy="663.9" r="7.1"/><circle cx="282.7" cy="663.9" r="7.1"/><circle cx="283.0" cy="663.9" r="7.1"/><circle cx="283.1" cy="663.9" r="7.1"/><circle cx="283.1" cy="663.9" r="7.1"/><circle cx="283.4" cy="663.9" r="7.1"/><circle cx="283.5" cy="663.9" r="7.1"/><circle cx="283.6" cy="663.9" r="7.1"/><circle cx="284.0" cy="663.9" r="7.1"/><circle cx="284.0" cy="663.9" r="7.1"/><circle cx="284.3" cy="663.9" r="7.1"/><circle cx="284.3" cy="663.9" r="7.1"/><circle cx="284.3" cy="663.9" r="7.1"/><circle cx="284.7" cy="663.9" r="7.1"/><circle cx="284.8" cy="663.9" r="7.1"/><circle cx="285.1" cy="659.6" r="7.1"/><circle cx="285.1" cy="659.6" r="7.1"/><circle cx="285.3" cy="659.6" r="7.1"/><circle cx="285.3" cy="659.6" r="7.1"/><circle cx="285.5" cy="659.6" r="7.1"/><circle cx="285.8" cy="659.6" r="7.1"/><circle cx="286.0" cy="659.6" r="7.1"/><circle cx="286.1" cy="659.6" r="7.1"/><circle cx="286.3" cy="659.6" r="7.1"/><circle cx="286.4" cy="659.6" r="7.1"/><circle cx="286.5" cy="659.6" r="7.1"/><circle cx="286.6" cy="659.6" r="7.1"/><circle cx="286.6" cy="659.6" r="7.1"/><circle cx="286.8" cy="659.6" r="7.1"/><circle cx="287.1" cy="659.6" r="7.1"/><circle cx="287.1" cy="659.6" r="7.1"/><circle cx="287.2" cy="659.6" r="7.1"/><circle cx="287.3" cy="659.6" r="7.1"/><circle cx="287.5" cy="659.6" r="7.1"/><circle cx="287.7" cy="659.6" r="7.1"/><circle cx="287.8" cy="659.6" r="7.1"/><circle cx="288.1" cy="659.6" r="7.1"/><circle cx="288.2" cy="655.3" r="7.1"/><circle cx="288.4" cy="655.3" r="7.1"/><circle cx="288.5" cy="655.3" r="7.1"/><circle cx="288.7" cy="655.3" r="7.1"/><circle cx="288.8" cy="655.3" r="7.1"/><circle cx="288.9" cy="655.3" r="7.1"/><circle cx="289.0" cy="655.3" r="7.1"/><circle cx="289.3" cy="655.3" r="7.1"/><circle cx="289.4" cy="655.3" r="7.1"/><circle cx="289.5" cy="655.3" r="7.1"/><circle cx="289.6" cy="655.3" r="7.1"/><circle cx="289.7" cy="655.3" r="7.1"/><circle cx="289.9" cy="655.3" r="7.1"/><circle cx="290.0" cy="655.3" r="7.1"/><circle cx="290.2" cy="655.3" r="7.1"/><circle cx="290.3" cy="655.3" r="7.1"/><circle cx="290.6" cy="655.3" r="7.1"/><circle cx="290.8" cy="655.3" r="7.1"/><circle cx="290.8" cy="655.3" r="7.1"/><circle cx="291.0" cy="655.3" r="7.1"/><circle cx="291.1" cy="655.3" r="7.1"/><circle cx="291.4" cy="651.0" r="7.1"/><circle cx="291.6" cy="651.0" r="7.1"/><circle cx="291.6" cy="651.0" r="7.1"/><circle cx="291.8" cy="651.0" r="7.1"/><circle cx="291.8" cy="651.0" r="7.1"/><circle cx="292.0" cy="651.0" r="7.1"/><circle cx="292.1" cy="651.0" r="7.1"/><circle cx="292.4" cy="651.0" r="7.1"/><circle cx="292.5" cy="651.0" r="7.1"/><circle cx="292.7" cy="651.0" r="7.1"/><circle cx="292.7" cy="651.0" r="7.1"/><circle cx="292.8" cy="651.0" r="7.1"/><circle cx="293.0" cy="651.0" r="7.1"/><circle cx="293.2" cy="651.0" r="7.1"/><circle cx="293.4" cy="651.0" r="7.1"/><circle cx="293.5" cy="651.0" r="7.1"/><circle cx="293.5" cy="651.0" r="7.1"/><circle cx="293.8" cy="651.0" r="7.1"/><circle cx="293.9" cy="651.0" r="7.1"/><circle cx="294.2" cy="651.0" r="7.1"/><circle cx="294.2" cy="651.0" r="7.1"/><circle cx="294.2" cy="651.0" r="7.1"/><circle cx="294.5" cy="646.7" r="7.1"/><circle cx="294.6" cy="646.7" r="7.1"/><circle cx="294.7" cy="646.7" r="7.1"/><circle cx="295.1" cy="646.7" r="7.1"/><circle cx="295.1" cy="646.7" r="7.1"/><circle cx="295.3" cy="646.7" r="7.1"/><circle cx="295.3" cy="646.7" r="7.1"/><circle cx="295.5" cy="646.7" r="7.1"/><circle cx="295.6" cy="646.7" r="7.1"/><circle cx="295.9" cy="646.7" r="7.1"/><circle cx="295.9" cy="646.7" r="7.1"/><circle cx="296.0" cy="646.7" r="7.1"/><circle cx="296.1" cy="646.7" r="7.1"/><circle cx="296.3" cy="646.7" r="7.1"/><circle cx="296.6" cy="646.7" r="7.1"/><circle cx="296.6" cy="646.7" r="7.1"/><circle cx="296.7" cy="646.7" r="7.1"/><circle cx="297.0" cy="646.7" r="7.1"/><circle cx="297.0" cy="646.7" r="7.1"/><circle cx="297.3" cy="642.4" r="7.1"/><circle cx="297.4" cy="642.4" r="7.1"/><circle cx="297.6" cy="642.4" r="7.1"/><circle cx="297.7" cy="642.4" r="7.1"/><circle cx="297.8" cy="642.4" r="7.1"/><circle cx="298.0" cy="642.4" r="7.1"/><circle cx="298.1" cy="642.4" r="7.1"/><circle cx="298.2" cy="642.4" r="7.1"/><circle cx="298.3" cy="642.4" r="7.1"/><circle cx="298.6" cy="642.4" r="7.1"/><circle cx="298.8" cy="642.4" r="7.1"/><circle cx="298.9" cy="642.4" r="7.1"/><circle cx="298.9" cy="642.4" r="7.1"/><circle cx="299.1" cy="642.4" r="7.1"/><circle cx="299.3" cy="642.4" r="7.1"/><circle cx="299.4" cy="642.4" r="7.1"/><circle cx="299.7" cy="642.4" r="7.1"/><circle cx="299.8" cy="642.4" r="7.1"/><circle cx="299.9" cy="642.4" r="7.1"/><circle cx="300.1" cy="642.4" r="7.1"/><circle cx="300.3" cy="638.1" r="7.1"/><circle cx="300.3" cy="638.1" r="7.1"/><circle cx="300.4" cy="638.1" r="7.1"/><circle cx="300.5" cy="638.1" r="7.1"/><circle cx="300.6" cy="638.1" r="7.1"/><circle cx="300.9" cy="638.1" r="7.1"/><circle cx="301.1" cy="638.1" r="7.1"/><circle cx="301.2" cy="638.1" r="7.1"/><circle cx="301.2" cy="638.1" r="7.1"/><circle cx="301.5" cy="638.1" r="7.1"/><circle cx="301.7" cy="638.1" r="7.1"/><circle cx="301.7" cy="638.1" r="7.1"/><circle cx="301.9" cy="638.1" r="7.1"/><circle cx="301.9" cy="638.1" r="7.1"/><circle cx="302.2" cy="638.1" r="7.1"/><circle cx="302.2" cy="638.1" r="7.1"/><circle cx="302.4" cy="638.1" r="7.1"/><circle cx="302.7" cy="638.1" r="7.1"/><circle cx="302.8" cy="638.1" r="7.1"/><circle cx="302.9" cy="638.1" r="7.1"/><circle cx="303.2" cy="633.8" r="7.1"/><circle cx="303.3" cy="633.8" r="7.1"/><circle cx="303.5" cy="633.8" r="7.1"/><circle cx="303.5" cy="633.8" r="7.1"/><circle cx="303.7" cy="633.8" r="7.1"/><circle cx="303.8" cy="633.8" r="7.1"/><circle cx="303.9" cy="633.8" r="7.1"/><circle cx="304.0" cy="633.8" r="7.1"/><circle cx="304.1" cy="633.8" r="7.1"/><circle cx="304.3" cy="633.8" r="7.1"/><circle cx="304.7" cy="633.8" r="7.1"/><circle cx="304.7" cy="633.8" r="7.1"/><circle cx="304.9" cy="633.8" r="7.1"/><circle cx="305.0" cy="633.8" r="7.1"/><circle cx="305.1" cy="633.8" r="7.1"/><circle cx="305.4" cy="633.8" r="7.1"/><circle cx="305.4" cy="633.8" r="7.1"/><circle cx="305.5" cy="633.8" r="7.1"/><circle cx="305.8" cy="633.8" r="7.1"/><circle cx="306.0" cy="633.8" r="7.1"/><circle cx="306.1" cy="633.8" r="7.1"/><circle cx="306.3" cy="633.8" r="7.1"/><circle cx="306.5" cy="629.5" r="7.1"/><circle cx="306.5" cy="629.5" r="7.1"/><circle cx="306.8" cy="629.5" r="7.1"/><circle cx="306.8" cy="629.5" r="7.1"/><circle cx="307.1" cy="629.5" r="7.1"/><circle cx="307.2" cy="629.5" r="7.1"/><circle cx="307.3" cy="629.5" r="7.1"/><circle cx="307.6" cy="629.5" r="7.1"/><circle cx="307.6" cy="629.5" r="7.1"/><circle cx="307.6" cy="629.5" r="7.1"/><circle cx="307.9" cy="629.5" r="7.1"/><circle cx="308.0" cy="629.5" r="7.1"/><circle cx="308.3" cy="629.5" r="7.1"/><circle cx="308.4" cy="629.5" r="7.1"/><circle cx="308.6" cy="629.5" r="7.1"/><circle cx="308.7" cy="629.5" r="7.1"/><circle cx="308.7" cy="629.5" r="7.1"/><circle cx="309.1" cy="629.5" r="7.1"/><circle cx="309.2" cy="629.5" r="7.1"/><circle cx="309.3" cy="629.5" r="7.1"/><circle cx="309.5" cy="629.5" r="7.1"/><circle cx="309.6" cy="629.5" r="7.1"/><circle cx="309.8" cy="629.5" r="7.1"/><circle cx="309.8" cy="629.5" r="7.1"/><circle cx="310.1" cy="629.5" r="7.1"/><circle cx="310.2" cy="629.5" r="7.1"/><circle cx="310.4" cy="629.5" r="7.1"/><circle cx="310.6" cy="629.5" r="7.1"/><circle cx="310.7" cy="629.5" r="7.1"/><circle cx="310.8" cy="629.5" r="7.1"/><circle cx="311.1" cy="629.5" r="7.1"/><circle cx="311.1" cy="629.5" r="7.1"/><circle cx="311.3" cy="629.5" r="7.1"/><circle cx="311.5" cy="625.2" r="7.1"/><circle cx="311.6" cy="625.2" r="7.1"/><circle cx="311.8" cy="625.2" r="7.1"/><circle cx="312.0" cy="625.2" r="7.1"/><circle cx="312.1" cy="625.2" r="7.1"/><circle cx="312.1" cy="625.2" r="7.1"/><circle cx="312.4" cy="625.2" r="7.1"/><circle cx="312.6" cy="625.2" r="7.1"/><circle cx="312.6" cy="625.2" r="7.1"/><circle cx="312.9" cy="625.2" r="7.1"/><circle cx="312.9" cy="625.2" r="7.1"/><circle cx="313.1" cy="625.2" r="7.1"/><circle cx="313.4" cy="625.2" r="7.1"/><circle cx="313.5" cy="625.2" r="7.1"/><circle cx="313.7" cy="625.2" r="7.1"/><circle cx="313.8" cy="625.2" r="7.1"/><circle cx="313.9" cy="625.2" r="7.1"/><circle cx="314.3" cy="625.2" r="7.1"/><circle cx="314.3" cy="625.2" r="7.1"/><circle cx="314.4" cy="625.2" r="7.1"/><circle cx="314.5" cy="625.2" r="7.1"/><circle cx="314.9" cy="625.2" r="7.1"/><circle cx="314.9" cy="625.2" r="7.1"/><circle cx="315.0" cy="625.2" r="7.1"/><circle cx="315.2" cy="625.2" r="7.1"/><circle cx="315.3" cy="625.2" r="7.1"/><circle cx="315.7" cy="620.9" r="7.1"/><circle cx="315.8" cy="620.9" r="7.1"/><circle cx="315.8" cy="620.9" r="7.1"/><circle cx="315.9" cy="620.9" r="7.1"/><circle cx="316.1" cy="620.9" r="7.1"/><circle cx="316.4" cy="620.9" r="7.1"/><circle cx="316.5" cy="620.9" r="7.1"/><circle cx="316.6" cy="620.9" r="7.1"/><circle cx="316.6" cy="620.9" r="7.1"/><circle cx="316.9" cy="620.9" r="7.1"/><circle cx="317.2" cy="620.9" r="7.1"/><circle cx="317.2" cy="620.9" r="7.1"/><circle cx="317.2" cy="620.9" r="7.1"/><circle cx="317.6" cy="620.9" r="7.1"/><circle cx="317.8" cy="620.9" r="7.1"/><circle cx="317.8" cy="620.9" r="7.1"/><circle cx="317.9" cy="620.9" r="7.1"/><circle cx="318.1" cy="620.9" r="7.1"/><circle cx="318.4" cy="620.9" r="7.1"/><circle cx="318.4" cy="620.9" r="7.1"/><circle cx="318.4" cy="620.9" r="7.1"/><circle cx="318.8" cy="616.5" r="7.1"/><circle cx="318.8" cy="616.5" r="7.1"/><circle cx="319.1" cy="616.5" r="7.1"/><circle cx="319.2" cy="616.5" r="7.1"/><circle cx="319.3" cy="616.5" r="7.1"/><circle cx="319.5" cy="616.5" r="7.1"/><circle cx="319.6" cy="616.5" r="7.1"/><circle cx="319.9" cy="616.5" r="7.1"/><circle cx="319.9" cy="616.5" r="7.1"/><circle cx="320.3" cy="616.5" r="7.1"/><circle cx="320.4" cy="616.5" r="7.1"/><circle cx="320.5" cy="616.5" r="7.1"/><circle cx="320.6" cy="616.5" r="7.1"/><circle cx="320.9" cy="616.5" r="7.1"/><circle cx="321.0" cy="616.5" r="7.1"/><circle cx="321.1" cy="616.5" r="7.1"/><circle cx="321.2" cy="616.5" r="7.1"/><circle cx="321.3" cy="616.5" r="7.1"/><circle cx="321.5" cy="616.5" r="7.1"/><circle cx="321.9" cy="612.2" r="7.1"/><circle cx="322.1" cy="612.2" r="7.1"/><circle cx="322.1" cy="612.2" r="7.1"/><circle cx="322.2" cy="612.2" r="7.1"/><circle cx="322.5" cy="612.2" r="7.1"/><circle cx="322.7" cy="612.2" r="7.1"/><circle cx="322.7" cy="612.2" r="7.1"/><circle cx="322.9" cy="612.2" r="7.1"/><circle cx="323.0" cy="612.2" r="7.1"/><circle cx="323.2" cy="612.2" r="7.1"/><circle cx="323.3" cy="612.2" r="7.1"/><circle cx="323.4" cy="612.2" r="7.1"/><circle cx="323.8" cy="612.2" r="7.1"/><circle cx="323.9" cy="612.2" r="7.1"/><circle cx="324.1" cy="612.2" r="7.1"/><circle cx="324.2" cy="612.2" r="7.1"/><circle cx="324.4" cy="612.2" r="7.1"/><circle cx="324.4" cy="612.2" r="7.1"/><circle cx="324.8" cy="612.2" r="7.1"/><circle cx="324.9" cy="612.2" r="7.1"/><circle cx="325.0" cy="612.2" r="7.1"/><circle cx="325.1" cy="612.2" r="7.1"/><circle cx="325.2" cy="612.2" r="7.1"/><circle cx="325.6" cy="612.2" r="7.1"/><circle cx="325.6" cy="612.2" r="7.1"/><circle cx="325.6" cy="612.2" r="7.1"/><circle cx="326.1" cy="607.9" r="7.1"/><circle cx="326.2" cy="607.9" r="7.1"/><circle cx="326.3" cy="607.9" r="7.1"/><circle cx="326.5" cy="607.9" r="7.1"/><circle cx="326.5" cy="607.9" r="7.1"/><circle cx="326.8" cy="607.9" r="7.1"/><circle cx="326.9" cy="607.9" r="7.1"/><circle cx="326.9" cy="607.9" r="7.1"/><circle cx="327.2" cy="607.9" r="7.1"/><circle cx="327.4" cy="607.9" r="7.1"/><circle cx="327.4" cy="607.9" r="7.1"/><circle cx="327.9" cy="607.9" r="7.1"/><circle cx="327.9" cy="607.9" r="7.1"/><circle cx="328.1" cy="607.9" r="7.1"/><circle cx="328.4" cy="607.9" r="7.1"/><circle cx="328.6" cy="607.9" r="7.1"/><circle cx="328.6" cy="607.9" r="7.1"/><circle cx="328.8" cy="607.9" r="7.1"/><circle cx="329.0" cy="607.9" r="7.1"/><circle cx="329.1" cy="607.9" r="7.1"/><circle cx="329.2" cy="607.9" r="7.1"/><circle cx="329.4" cy="607.9" r="7.1"/><circle cx="329.5" cy="607.9" r="7.1"/><circle cx="329.8" cy="607.9" r="7.1"/><circle cx="329.9" cy="607.9" r="7.1"/><circle cx="329.9" cy="607.9" r="7.1"/><circle cx="330.2" cy="603.6" r="7.1"/><circle cx="330.4" cy="603.6" r="7.1"/><circle cx="330.5" cy="603.6" r="7.1"/><circle cx="330.7" cy="603.6" r="7.1"/><circle cx="330.8" cy="603.6" r="7.1"/><circle cx="330.9" cy="603.6" r="7.1"/><circle cx="331.0" cy="603.6" r="7.1"/><circle cx="331.3" cy="603.6" r="7.1"/><circle cx="331.4" cy="603.6" r="7.1"/><circle cx="331.7" cy="603.6" r="7.1"/><circle cx="331.8" cy="603.6" r="7.1"/><circle cx="331.8" cy="603.6" r="7.1"/><circle cx="332.2" cy="603.6" r="7.1"/><circle cx="332.3" cy="603.6" r="7.1"/><circle cx="332.4" cy="603.6" r="7.1"/><circle cx="332.5" cy="603.6" r="7.1"/><circle cx="332.9" cy="603.6" r="7.1"/><circle cx="333.0" cy="603.6" r="7.1"/><circle cx="333.0" cy="603.6" r="7.1"/><circle cx="333.2" cy="603.6" r="7.1"/><circle cx="333.5" cy="603.6" r="7.1"/><circle cx="333.6" cy="603.6" r="7.1"/><circle cx="333.6" cy="603.6" r="7.1"/><circle cx="333.8" cy="603.6" r="7.1"/><circle cx="333.9" cy="603.6" r="7.1"/><circle cx="334.1" cy="599.3" r="7.1"/><circle cx="334.4" cy="599.3" r="7.1"/><circle cx="334.7" cy="599.3" r="7.1"/><circle cx="334.9" cy="599.3" r="7.1"/><circle cx="335.0" cy="599.3" r="7.1"/><circle cx="335.0" cy="599.3" r="7.1"/><circle cx="335.2" cy="599.3" r="7.1"/><circle cx="335.3" cy="599.3" r="7.1"/><circle cx="335.6" cy="599.3" r="7.1"/><circle cx="335.6" cy="599.3" r="7.1"/><circle cx="335.9" cy="599.3" r="7.1"/><circle cx="335.9" cy="599.3" r="7.1"/><circle cx="336.2" cy="599.3" r="7.1"/><circle cx="336.3" cy="599.3" r="7.1"/><circle cx="336.5" cy="599.3" r="7.1"/><circle cx="336.6" cy="599.3" r="7.1"/><circle cx="336.7" cy="599.3" r="7.1"/><circle cx="337.0" cy="599.3" r="7.1"/><circle cx="337.3" cy="599.3" r="7.1"/><circle cx="337.3" cy="599.3" r="7.1"/><circle cx="337.6" cy="595.0" r="7.1"/><circle cx="337.6" cy="595.0" r="7.1"/><circle cx="337.8" cy="595.0" r="7.1"/><circle cx="337.9" cy="595.0" r="7.1"/><circle cx="338.2" cy="595.0" r="7.1"/><circle cx="338.3" cy="595.0" r="7.1"/><circle cx="338.5" cy="595.0" r="7.1"/><circle cx="338.6" cy="595.0" r="7.1"/><circle cx="338.8" cy="595.0" r="7.1"/><circle cx="338.9" cy="595.0" r="7.1"/><circle cx="339.2" cy="595.0" r="7.1"/><circle cx="339.3" cy="595.0" r="7.1"/><circle cx="339.5" cy="595.0" r="7.1"/><circle cx="339.5" cy="595.0" r="7.1"/><circle cx="339.8" cy="595.0" r="7.1"/><circle cx="339.9" cy="595.0" r="7.1"/><circle cx="340.0" cy="595.0" r="7.1"/><circle cx="340.1" cy="595.0" r="7.1"/><circle cx="340.3" cy="595.0" r="7.1"/><circle cx="340.7" cy="595.0" r="7.1"/><circle cx="340.7" cy="595.0" r="7.1"/><circle cx="340.8" cy="595.0" r="7.1"/><circle cx="341.2" cy="590.7" r="7.1"/><circle cx="341.2" cy="590.7" r="7.1"/><circle cx="341.4" cy="590.7" r="7.1"/><circle cx="341.5" cy="590.7" r="7.1"/><circle cx="341.6" cy="590.7" r="7.1"/><circle cx="341.7" cy="590.7" r="7.1"/><circle cx="342.0" cy="590.7" r="7.1"/><circle cx="342.2" cy="590.7" r="7.1"/><circle cx="342.4" cy="590.7" r="7.1"/><circle cx="342.5" cy="590.7" r="7.1"/><circle cx="342.6" cy="590.7" r="7.1"/><circle cx="342.7" cy="590.7" r="7.1"/><circle cx="343.0" cy="590.7" r="7.1"/><circle cx="343.2" cy="590.7" r="7.1"/><circle cx="343.2" cy="590.7" r="7.1"/><circle cx="343.6" cy="590.7" r="7.1"/><circle cx="343.8" cy="590.7" r="7.1"/><circle cx="343.8" cy="590.7" r="7.1"/><circle cx="343.9" cy="590.7" r="7.1"/><circle cx="344.2" cy="590.7" r="7.1"/><circle cx="344.3" cy="590.7" r="7.1"/><circle cx="344.3" cy="590.7" r="7.1"/><circle cx="344.7" cy="586.4" r="7.1"/><circle cx="344.9" cy="586.4" r="7.1"/><circle cx="344.9" cy="586.4" r="7.1"/><circle cx="345.0" cy="586.4" r="7.1"/><circle cx="345.3" cy="586.4" r="7.1"/><circle cx="345.4" cy="586.4" r="7.1"/><circle cx="345.6" cy="586.4" r="7.1"/><circle cx="345.7" cy="586.4" r="7.1"/><circle cx="345.9" cy="586.4" r="7.1"/><circle cx="345.9" cy="586.4" r="7.1"/><circle cx="346.4" cy="586.4" r="7.1"/><circle cx="346.5" cy="586.4" r="7.1"/><circle cx="346.6" cy="586.4" r="7.1"/><circle cx="346.8" cy="586.4" r="7.1"/><circle cx="347.0" cy="586.4" r="7.1"/><circle cx="347.0" cy="586.4" r="7.1"/><circle cx="347.2" cy="586.4" r="7.1"/><circle cx="347.3" cy="586.4" r="7.1"/><circle cx="347.6" cy="586.4" r="7.1"/><circle cx="347.6" cy="586.4" r="7.1"/><circle cx="347.8" cy="586.4" r="7.1"/><circle cx="348.1" cy="582.1" r="7.1"/><circle cx="348.2" cy="582.1" r="7.1"/><circle cx="348.3" cy="582.1" r="7.1"/><circle cx="348.4" cy="582.1" r="7.1"/><circle cx="348.5" cy="582.1" r="7.1"/><circle cx="348.9" cy="582.1" r="7.1"/><circle cx="349.0" cy="582.1" r="7.1"/><circle cx="349.0" cy="582.1" r="7.1"/><circle cx="349.4" cy="582.1" r="7.1"/><circle cx="349.5" cy="582.1" r="7.1"/><circle cx="349.6" cy="582.1" r="7.1"/><circle cx="349.8" cy="582.1" r="7.1"/><circle cx="349.9" cy="582.1" r="7.1"/><circle cx="350.0" cy="582.1" r="7.1"/><circle cx="350.4" cy="582.1" r="7.1"/><circle cx="350.4" cy="582.1" r="7.1"/><circle cx="350.5" cy="582.1" r="7.1"/><circle cx="350.6" cy="582.1" r="7.1"/><circle cx="350.8" cy="582.1" r="7.1"/><circle cx="350.9" cy="582.1" r="7.1"/><circle cx="351.2" cy="582.1" r="7.1"/><circle cx="351.4" cy="582.1" r="7.1"/><circle cx="351.4" cy="582.1" r="7.1"/><circle cx="351.7" cy="582.1" r="7.1"/><circle cx="351.8" cy="582.1" r="7.1"/><circle cx="351.9" cy="582.1" r="7.1"/><circle cx="352.3" cy="577.8" r="7.1"/><circle cx="352.3" cy="577.8" r="7.1"/><circle cx="352.4" cy="577.8" r="7.1"/><circle cx="352.6" cy="577.8" r="7.1"/><circle cx="352.7" cy="577.8" r="7.1"/><circle cx="352.8" cy="577.8" r="7.1"/><circle cx="353.1" cy="577.8" r="7.1"/><circle cx="353.3" cy="577.8" r="7.1"/><circle cx="353.5" cy="577.8" r="7.1"/><circle cx="353.6" cy="577.8" r="7.1"/><circle cx="353.7" cy="577.8" r="7.1"/><circle cx="354.1" cy="577.8" r="7.1"/><circle cx="354.1" cy="577.8" r="7.1"/><circle cx="354.1" cy="577.8" r="7.1"/><circle cx="354.4" cy="577.8" r="7.1"/><circle cx="354.6" cy="577.8" r="7.1"/><circle cx="354.7" cy="577.8" r="7.1"/><circle cx="354.8" cy="577.8" r="7.1"/><circle cx="355.0" cy="577.8" r="7.1"/><circle cx="355.1" cy="577.8" r="7.1"/><circle cx="355.4" cy="577.8" r="7.1"/><circle cx="355.7" cy="577.8" r="7.1"/><circle cx="355.8" cy="577.8" r="7.1"/><circle cx="355.9" cy="577.8" r="7.1"/><circle cx="356.1" cy="577.8" r="7.1"/><circle cx="356.2" cy="577.8" r="7.1"/><circle cx="356.4" cy="577.8" r="7.1"/><circle cx="356.6" cy="573.5" r="7.1"/><circle cx="356.6" cy="573.5" r="7.1"/><circle cx="356.8" cy="573.5" r="7.1"/><circle cx="357.0" cy="573.5" r="7.1"/><circle cx="357.0" cy="573.5" r="7.1"/><circle cx="357.4" cy="573.5" r="7.1"/><circle cx="357.5" cy="573.5" r="7.1"/><circle cx="357.6" cy="573.5" r="7.1"/><circle cx="357.6" cy="573.5" r="7.1"/><circle cx="358.0" cy="573.5" r="7.1"/><circle cx="358.1" cy="573.5" r="7.1"/><circle cx="358.3" cy="573.5" r="7.1"/><circle cx="358.4" cy="573.5" r="7.1"/><circle cx="358.6" cy="573.5" r="7.1"/><circle cx="358.7" cy="573.5" r="7.1"/><circle cx="359.0" cy="573.5" r="7.1"/><circle cx="359.2" cy="573.5" r="7.1"/><circle cx="359.3" cy="573.5" r="7.1"/><circle cx="359.3" cy="573.5" r="7.1"/><circle cx="359.5" cy="573.5" r="7.1"/><circle cx="359.8" cy="573.5" r="7.1"/><circle cx="359.8" cy="573.5" r="7.1"/><circle cx="359.9" cy="573.5" r="7.1"/><circle cx="360.3" cy="573.5" r="7.1"/><circle cx="360.4" cy="573.5" r="7.1"/><circle cx="360.4" cy="573.5" r="7.1"/><circle cx="360.6" cy="573.5" r="7.1"/><circle cx="360.9" cy="569.2" r="7.1"/><circle cx="361.0" cy="569.2" r="7.1"/><circle cx="361.0" cy="569.2" r="7.1"/><circle cx="361.4" cy="569.2" r="7.1"/><circle cx="361.4" cy="569.2" r="7.1"/><circle cx="361.6" cy="569.2" r="7.1"/><circle cx="361.8" cy="569.2" r="7.1"/><circle cx="362.0" cy="569.2" r="7.1"/><circle cx="362.0" cy="569.2" r="7.1"/><circle cx="362.2" cy="569.2" r="7.1"/><circle cx="362.4" cy="569.2" r="7.1"/><circle cx="362.5" cy="569.2" r="7.1"/><circle cx="362.8" cy="569.2" r="7.1"/><circle cx="362.9" cy="569.2" r="7.1"/><circle cx="363.0" cy="569.2" r="7.1"/><circle cx="363.1" cy="569.2" r="7.1"/><circle cx="363.3" cy="569.2" r="7.1"/><circle cx="363.7" cy="569.2" r="7.1"/><circle cx="363.7" cy="569.2" r="7.1"/><circle cx="364.0" cy="569.2" r="7.1"/><circle cx="364.1" cy="569.2" r="7.1"/><circle cx="364.2" cy="569.2" r="7.1"/><circle cx="364.4" cy="569.2" r="7.1"/><circle cx="364.6" cy="569.2" r="7.1"/><circle cx="364.6" cy="569.2" r="7.1"/><circle cx="365.0" cy="569.2" r="7.1"/><circle cx="365.0" cy="569.2" r="7.1"/><circle cx="365.2" cy="569.2" r="7.1"/><circle cx="365.4" cy="564.9" r="7.1"/><circle cx="365.5" cy="564.9" r="7.1"/><circle cx="365.7" cy="564.9" r="7.1"/><circle cx="365.8" cy="564.9" r="7.1"/><circle cx="366.0" cy="564.9" r="7.1"/><circle cx="366.0" cy="564.9" r="7.1"/><circle cx="366.2" cy="564.9" r="7.1"/><circle cx="366.4" cy="564.9" r="7.1"/><circle cx="366.7" cy="564.9" r="7.1"/><circle cx="366.8" cy="564.9" r="7.1"/><circle cx="366.9" cy="564.9" r="7.1"/><circle cx="367.0" cy="564.9" r="7.1"/><circle cx="367.3" cy="564.9" r="7.1"/><circle cx="367.6" cy="564.9" r="7.1"/><circle cx="367.7" cy="564.9" r="7.1"/><circle cx="367.9" cy="564.9" r="7.1"/><circle cx="368.0" cy="564.9" r="7.1"/><circle cx="368.1" cy="564.9" r="7.1"/><circle cx="368.1" cy="564.9" r="7.1"/><circle cx="368.5" cy="564.9" r="7.1"/><circle cx="368.6" cy="564.9" r="7.1"/><circle cx="368.7" cy="564.9" r="7.1"/><circle cx="368.7" cy="564.9" r="7.1"/><circle cx="368.9" cy="564.9" r="7.1"/><circle cx="369.1" cy="564.9" r="7.1"/><circle cx="369.5" cy="560.6" r="7.1"/><circle cx="369.6" cy="560.6" r="7.1"/><circle cx="369.7" cy="560.6" r="7.1"/><circle cx="369.8" cy="560.6" r="7.1"/><circle cx="370.0" cy="560.6" r="7.1"/><circle cx="370.1" cy="560.6" r="7.1"/><circle cx="370.2" cy="560.6" r="7.1"/><circle cx="370.5" cy="560.6" r="7.1"/><circle cx="370.5" cy="560.6" r="7.1"/><circle cx="370.9" cy="560.6" r="7.1"/><circle cx="370.9" cy="560.6" r="7.1"/><circle cx="371.1" cy="560.6" r="7.1"/><circle cx="371.4" cy="560.6" r="7.1"/><circle cx="371.4" cy="560.6" r="7.1"/><circle cx="371.6" cy="560.6" r="7.1"/><circle cx="371.8" cy="560.6" r="7.1"/><circle cx="371.9" cy="560.6" r="7.1"/><circle cx="372.0" cy="560.6" r="7.1"/><circle cx="372.2" cy="560.6" r="7.1"/><circle cx="372.5" cy="560.6" r="7.1"/><circle cx="372.5" cy="560.6" r="7.1"/><circle cx="372.8" cy="560.6" r="7.1"/><circle cx="372.8" cy="560.6" r="7.1"/><circle cx="373.0" cy="560.6" r="7.1"/><circle cx="373.2" cy="560.6" r="7.1"/><circle cx="373.4" cy="556.3" r="7.1"/><circle cx="373.5" cy="556.3" r="7.1"/><circle cx="373.7" cy="556.3" r="7.1"/><circle cx="374.0" cy="556.3" r="7.1"/><circle cx="374.0" cy="556.3" r="7.1"/><circle cx="374.2" cy="556.3" r="7.1"/><circle cx="374.2" cy="556.3" r="7.1"/><circle cx="374.4" cy="556.3" r="7.1"/><circle cx="374.5" cy="556.3" r="7.1"/><circle cx="374.6" cy="556.3" r="7.1"/><circle cx="374.9" cy="556.3" r="7.1"/><circle cx="375.0" cy="556.3" r="7.1"/><circle cx="375.2" cy="556.3" r="7.1"/><circle cx="375.6" cy="556.3" r="7.1"/><circle cx="375.7" cy="556.3" r="7.1"/><circle cx="375.7" cy="556.3" r="7.1"/><circle cx="375.8" cy="556.3" r="7.1"/><circle cx="375.9" cy="556.3" r="7.1"/><circle cx="376.4" cy="556.3" r="7.1"/><circle cx="376.4" cy="556.3" r="7.1"/><circle cx="376.6" cy="556.3" r="7.1"/><circle cx="376.8" cy="556.3" r="7.1"/><circle cx="376.9" cy="556.3" r="7.1"/><circle cx="377.1" cy="552.0" r="7.1"/><circle cx="377.2" cy="552.0" r="7.1"/><circle cx="377.4" cy="552.0" r="7.1"/><circle cx="377.5" cy="552.0" r="7.1"/><circle cx="377.8" cy="552.0" r="7.1"/><circle cx="378.0" cy="552.0" r="7.1"/><circle cx="378.0" cy="552.0" r="7.1"/><circle cx="378.1" cy="552.0" r="7.1"/><circle cx="378.4" cy="552.0" r="7.1"/><circle cx="378.5" cy="552.0" r="7.1"/><circle cx="378.7" cy="552.0" r="7.1"/><circle cx="378.7" cy="552.0" r="7.1"/><circle cx="379.0" cy="552.0" r="7.1"/><circle cx="379.1" cy="552.0" r="7.1"/><circle cx="379.1" cy="552.0" r="7.1"/><circle cx="379.3" cy="552.0" r="7.1"/><circle cx="379.6" cy="552.0" r="7.1"/><circle cx="379.8" cy="552.0" r="7.1"/><circle cx="379.9" cy="552.0" r="7.1"/><circle cx="380.1" cy="552.0" r="7.1"/><circle cx="380.3" cy="552.0" r="7.1"/><circle cx="380.3" cy="552.0" r="7.1"/><circle cx="380.6" cy="547.7" r="7.1"/><circle cx="380.8" cy="547.7" r="7.1"/><circle cx="380.9" cy="547.7" r="7.1"/><circle cx="381.1" cy="547.7" r="7.1"/><circle cx="381.1" cy="547.7" r="7.1"/><circle cx="381.2" cy="547.7" r="7.1"/><circle cx="381.5" cy="547.7" r="7.1"/><circle cx="381.7" cy="547.7" r="7.1"/><circle cx="381.7" cy="547.7" r="7.1"/><circle cx="382.0" cy="547.7" r="7.1"/><circle cx="382.2" cy="547.7" r="7.1"/><circle cx="382.4" cy="547.7" r="7.1"/><circle cx="382.6" cy="547.7" r="7.1"/><circle cx="382.7" cy="547.7" r="7.1"/><circle cx="382.7" cy="547.7" r="7.1"/><circle cx="382.9" cy="547.7" r="7.1"/><circle cx="383.1" cy="547.7" r="7.1"/><circle cx="383.3" cy="547.7" r="7.1"/><circle cx="383.5" cy="547.7" r="7.1"/><circle cx="383.6" cy="547.7" r="7.1"/><circle cx="383.9" cy="547.7" r="7.1"/><circle cx="384.0" cy="543.4" r="7.1"/><circle cx="384.2" cy="543.4" r="7.1"/><circle cx="384.3" cy="543.4" r="7.1"/><circle cx="384.5" cy="543.4" r="7.1"/><circle cx="384.6" cy="543.4" r="7.1"/><circle cx="384.7" cy="543.4" r="7.1"/><circle cx="384.8" cy="543.4" r="7.1"/><circle cx="385.1" cy="543.4" r="7.1"/><circle cx="385.2" cy="543.4" r="7.1"/><circle cx="385.5" cy="543.4" r="7.1"/><circle cx="385.5" cy="543.4" r="7.1"/><circle cx="385.7" cy="543.4" r="7.1"/><circle cx="385.9" cy="543.4" r="7.1"/><circle cx="385.9" cy="543.4" r="7.1"/><circle cx="386.2" cy="543.4" r="7.1"/><circle cx="386.4" cy="543.4" r="7.1"/><circle cx="386.6" cy="543.4" r="7.1"/><circle cx="386.6" cy="543.4" r="7.1"/><circle cx="386.9" cy="543.4" r="7.1"/><circle cx="387.0" cy="543.4" r="7.1"/><circle cx="387.1" cy="543.4" r="7.1"/><circle cx="387.2" cy="543.4" r="7.1"/><circle cx="387.4" cy="543.4" r="7.1"/><circle cx="387.7" cy="543.4" r="7.1"/><circle cx="387.8" cy="543.4" r="7.1"/><circle cx="388.0" cy="543.4" r="7.1"/><circle cx="388.0" cy="543.4" r="7.1"/><circle cx="388.5" cy="543.4" r="7.1"/><circle cx="388.5" cy="543.4" r="7.1"/><circle cx="388.6" cy="543.4" r="7.1"/><circle cx="388.7" cy="543.4" r="7.1"/><circle cx="389.0" cy="539.1" r="7.1"/><circle cx="389.1" cy="539.1" r="7.1"/><circle cx="389.1" cy="539.1" r="7.1"/><circle cx="389.4" cy="539.1" r="7.1"/><circle cx="389.4" cy="539.1" r="7.1"/><circle cx="389.6" cy="539.1" r="7.1"/><circle cx="389.9" cy="539.1" r="7.1"/><circle cx="390.1" cy="539.1" r="7.1"/><circle cx="390.2" cy="539.1" r="7.1"/><circle cx="390.5" cy="539.1" r="7.1"/><circle cx="390.5" cy="539.1" r="7.1"/><circle cx="390.8" cy="539.1" r="7.1"/><circle cx="390.8" cy="539.1" r="7.1"/><circle cx="390.9" cy="539.1" r="7.1"/><circle cx="391.2" cy="539.1" r="7.1"/><circle cx="391.2" cy="539.1" r="7.1"/><circle cx="391.4" cy="539.1" r="7.1"/><circle cx="391.5" cy="539.1" r="7.1"/><circle cx="391.9" cy="539.1" r="7.1"/><circle cx="391.9" cy="539.1" r="7.1"/><circle cx="391.9" cy="539.1" r="7.1"/><circle cx="392.3" cy="539.1" r="7.1"/><circle cx="392.4" cy="539.1" r="7.1"/><circle cx="392.4" cy="539.1" r="7.1"/><circle cx="392.7" cy="539.1" r="7.1"/><circle cx="392.9" cy="539.1" r="7.1"/><circle cx="393.0" cy="539.1" r="7.1"/><circle cx="393.2" cy="534.8" r="7.1"/><circle cx="393.3" cy="534.8" r="7.1"/><circle cx="393.6" cy="534.8" r="7.1"/><circle cx="393.7" cy="534.8" r="7.1"/><circle cx="393.7" cy="534.8" r="7.1"/><circle cx="394.0" cy="534.8" r="7.1"/><circle cx="394.1" cy="534.8" r="7.1"/><circle cx="394.2" cy="534.8" r="7.1"/><circle cx="394.5" cy="534.8" r="7.1"/><circle cx="394.7" cy="534.8" r="7.1"/><circle cx="394.8" cy="534.8" r="7.1"/><circle cx="394.8" cy="534.8" r="7.1"/><circle cx="395.1" cy="534.8" r="7.1"/><circle cx="395.3" cy="534.8" r="7.1"/><circle cx="395.3" cy="534.8" r="7.1"/><circle cx="395.5" cy="534.8" r="7.1"/><circle cx="395.8" cy="534.8" r="7.1"/><circle cx="395.9" cy="534.8" r="7.1"/><circle cx="396.1" cy="534.8" r="7.1"/><circle cx="396.1" cy="534.8" r="7.1"/><circle cx="396.3" cy="530.5" r="7.1"/><circle cx="396.4" cy="530.5" r="7.1"/><circle cx="396.6" cy="530.5" r="7.1"/><circle cx="396.9" cy="530.5" r="7.1"/><circle cx="397.0" cy="530.5" r="7.1"/><circle cx="397.3" cy="530.5" r="7.1"/><circle cx="397.3" cy="530.5" r="7.1"/><circle cx="397.5" cy="530.5" r="7.1"/><circle cx="397.5" cy="530.5" r="7.1"/><circle cx="397.7" cy="530.5" r="7.1"/><circle cx="397.9" cy="530.5" r="7.1"/><circle cx="398.0" cy="530.5" r="7.1"/><circle cx="398.2" cy="530.5" r="7.1"/><circle cx="398.4" cy="530.5" r="7.1"/><circle cx="398.7" cy="530.5" r="7.1"/><circle cx="398.7" cy="530.5" r="7.1"/><circle cx="398.7" cy="530.5" r="7.1"/><circle cx="399.0" cy="530.5" r="7.1"/><circle cx="399.1" cy="530.5" r="7.1"/><circle cx="399.2" cy="530.5" r="7.1"/><circle cx="399.5" cy="530.5" r="7.1"/><circle cx="399.6" cy="526.1" r="7.1"/><circle cx="399.9" cy="526.1" r="7.1"/><circle cx="399.9" cy="526.1" r="7.1"/><circle cx="400.2" cy="526.1" r="7.1"/><circle cx="400.2" cy="526.1" r="7.1"/><circle cx="400.4" cy="526.1" r="7.1"/><circle cx="400.6" cy="526.1" r="7.1"/><circle cx="400.8" cy="526.1" r="7.1"/><circle cx="400.8" cy="526.1" r="7.1"/><circle cx="401.0" cy="526.1" r="7.1"/><circle cx="401.3" cy="526.1" r="7.1"/><circle cx="401.4" cy="526.1" r="7.1"/><circle cx="401.5" cy="526.1" r="7.1"/><circle cx="401.5" cy="526.1" r="7.1"/><circle cx="402.0" cy="526.1" r="7.1"/><circle cx="402.0" cy="526.1" r="7.1"/><circle cx="402.0" cy="526.1" r="7.1"/><circle cx="402.3" cy="526.1" r="7.1"/><circle cx="402.5" cy="526.1" r="7.1"/><circle cx="402.5" cy="526.1" r="7.1"/><circle cx="402.6" cy="526.1" r="7.1"/><circle cx="403.0" cy="521.8" r="7.1"/><circle cx="403.2" cy="521.8" r="7.1"/><circle cx="403.2" cy="521.8" r="7.1"/><circle cx="403.3" cy="521.8" r="7.1"/><circle cx="403.6" cy="521.8" r="7.1"/><circle cx="403.8" cy="521.8" r="7.1"/><circle cx="404.0" cy="521.8" r="7.1"/><circle cx="404.1" cy="521.8" r="7.1"/><circle cx="404.3" cy="521.8" r="7.1"/><circle cx="404.4" cy="521.8" r="7.1"/><circle cx="404.4" cy="521.8" r="7.1"/><circle cx="404.7" cy="521.8" r="7.1"/><circle cx="405.0" cy="521.8" r="7.1"/><circle cx="405.0" cy="521.8" r="7.1"/><circle cx="405.1" cy="521.8" r="7.1"/><circle cx="405.4" cy="521.8" r="7.1"/><circle cx="405.5" cy="521.8" r="7.1"/><circle cx="405.6" cy="521.8" r="7.1"/><circle cx="405.6" cy="521.8" r="7.1"/><circle cx="405.9" cy="521.8" r="7.1"/><circle cx="406.1" cy="521.8" r="7.1"/><circle cx="406.3" cy="521.8" r="7.1"/><circle cx="406.6" cy="517.5" r="7.1"/><circle cx="406.6" cy="517.5" r="7.1"/><circle cx="406.7" cy="517.5" r="7.1"/><circle cx="406.9" cy="517.5" r="7.1"/><circle cx="407.1" cy="517.5" r="7.1"/><circle cx="407.2" cy="517.5" r="7.1"/><circle cx="407.2" cy="517.5" r="7.1"/><circle cx="407.5" cy="517.5" r="7.1"/><circle cx="407.8" cy="517.5" r="7.1"/><circle cx="407.8" cy="517.5" r="7.1"/><circle cx="407.9" cy="517.5" r="7.1"/><circle cx="408.0" cy="517.5" r="7.1"/><circle cx="408.2" cy="517.5" r="7.1"/><circle cx="408.3" cy="517.5" r="7.1"/><circle cx="408.7" cy="517.5" r="7.1"/><circle cx="408.8" cy="517.5" r="7.1"/><circle cx="409.0" cy="517.5" r="7.1"/><circle cx="409.1" cy="517.5" r="7.1"/><circle cx="409.3" cy="517.5" r="7.1"/><circle cx="409.3" cy="517.5" r="7.1"/><circle cx="409.5" cy="517.5" r="7.1"/><circle cx="409.6" cy="517.5" r="7.1"/><circle cx="409.7" cy="517.5" r="7.1"/><circle cx="410.0" cy="517.5" r="7.1"/><circle cx="410.3" cy="513.2" r="7.1"/><circle cx="410.3" cy="513.2" r="7.1"/><circle cx="410.5" cy="513.2" r="7.1"/><circle cx="410.6" cy="513.2" r="7.1"/><circle cx="410.7" cy="513.2" r="7.1"/><circle cx="410.8" cy="513.2" r="7.1"/><circle cx="411.0" cy="513.2" r="7.1"/><circle cx="411.1" cy="513.2" r="7.1"/><circle cx="411.2" cy="513.2" r="7.1"/><circle cx="411.4" cy="513.2" r="7.1"/><circle cx="411.5" cy="513.2" r="7.1"/><circle cx="411.9" cy="513.2" r="7.1"/><circle cx="412.1" cy="513.2" r="7.1"/><circle cx="412.1" cy="513.2" r="7.1"/><circle cx="412.1" cy="513.2" r="7.1"/><circle cx="412.3" cy="513.2" r="7.1"/><circle cx="412.5" cy="513.2" r="7.1"/><circle cx="412.9" cy="513.2" r="7.1"/><circle cx="412.9" cy="513.2" r="7.1"/><circle cx="412.9" cy="513.2" r="7.1"/><circle cx="413.2" cy="513.2" r="7.1"/><circle cx="413.3" cy="513.2" r="7.1"/><circle cx="413.5" cy="513.2" r="7.1"/><circle cx="413.6" cy="513.2" r="7.1"/><circle cx="413.8" cy="513.2" r="7.1"/><circle cx="414.1" cy="508.9" r="7.1"/><circle cx="414.1" cy="508.9" r="7.1"/><circle cx="414.1" cy="508.9" r="7.1"/><circle cx="414.4" cy="508.9" r="7.1"/><circle cx="414.6" cy="508.9" r="7.1"/><circle cx="414.6" cy="508.9" r="7.1"/><circle cx="415.0" cy="508.9" r="7.1"/><circle cx="415.0" cy="508.9" r="7.1"/><circle cx="415.1" cy="508.9" r="7.1"/><circle cx="415.4" cy="508.9" r="7.1"/><circle cx="415.6" cy="508.9" r="7.1"/><circle cx="415.7" cy="508.9" r="7.1"/><circle cx="415.8" cy="508.9" r="7.1"/><circle cx="415.9" cy="508.9" r="7.1"/><circle cx="416.0" cy="508.9" r="7.1"/><circle cx="416.1" cy="508.9" r="7.1"/><circle cx="416.5" cy="508.9" r="7.1"/><circle cx="416.5" cy="508.9" r="7.1"/><circle cx="416.7" cy="508.9" r="7.1"/><circle cx="416.9" cy="508.9" r="7.1"/><circle cx="417.1" cy="508.9" r="7.1"/><circle cx="417.2" cy="508.9" r="7.1"/><circle cx="417.3" cy="508.9" r="7.1"/><circle cx="417.5" cy="508.9" r="7.1"/><circle cx="417.5" cy="508.9" r="7.1"/><circle cx="417.9" cy="504.6" r="7.1"/><circle cx="417.9" cy="504.6" r="7.1"/><circle cx="417.9" cy="504.6" r="7.1"/><circle cx="418.3" cy="504.6" r="7.1"/><circle cx="418.5" cy="504.6" r="7.1"/><circle cx="418.7" cy="504.6" r="7.1"/><circle cx="418.7" cy="504.6" r="7.1"/><circle cx="418.9" cy="504.6" r="7.1"/><circle cx="419.2" cy="504.6" r="7.1"/><circle cx="419.2" cy="504.6" r="7.1"/><circle cx="419.3" cy="504.6" r="7.1"/><circle cx="419.6" cy="504.6" r="7.1"/><circle cx="419.8" cy="504.6" r="7.1"/><circle cx="419.8" cy="504.6" r="7.1"/><circle cx="419.9" cy="504.6" r="7.1"/><circle cx="420.1" cy="504.6" r="7.1"/><circle cx="420.1" cy="504.6" r="7.1"/><circle cx="420.5" cy="504.6" r="7.1"/><circle cx="420.6" cy="504.6" r="7.1"/><circle cx="420.9" cy="504.6" r="7.1"/><circle cx="420.9" cy="504.6" r="7.1"/><circle cx="421.0" cy="504.6" r="7.1"/><circle cx="421.4" cy="500.3" r="7.1"/><circle cx="421.6" cy="500.3" r="7.1"/><circle cx="421.6" cy="500.3" r="7.1"/><circle cx="421.9" cy="500.3" r="7.1"/><circle cx="422.0" cy="500.3" r="7.1"/><circle cx="422.1" cy="500.3" r="7.1"/><circle cx="422.3" cy="500.3" r="7.1"/><circle cx="422.6" cy="500.3" r="7.1"/><circle cx="422.7" cy="500.3" r="7.1"/><circle cx="422.8" cy="500.3" r="7.1"/><circle cx="423.1" cy="500.3" r="7.1"/><circle cx="423.3" cy="500.3" r="7.1"/><circle cx="423.5" cy="500.3" r="7.1"/><circle cx="423.7" cy="500.3" r="7.1"/><circle cx="423.8" cy="500.3" r="7.1"/><circle cx="424.0" cy="500.3" r="7.1"/><circle cx="424.4" cy="500.3" r="7.1"/><circle cx="424.5" cy="496.0" r="7.1"/><circle cx="424.6" cy="496.0" r="7.1"/><circle cx="424.8" cy="496.0" r="7.1"/><circle cx="424.8" cy="496.0" r="7.1"/><circle cx="425.4" cy="496.0" r="7.1"/><circle cx="425.7" cy="496.0" r="7.1"/><circle cx="425.8" cy="496.0" r="7.1"/><circle cx="425.9" cy="496.0" r="7.1"/><circle cx="426.1" cy="496.0" r="7.1"/><circle cx="426.3" cy="496.0" r="7.1"/><circle cx="426.4" cy="496.0" r="7.1"/><circle cx="426.6" cy="496.0" r="7.1"/><circle cx="426.9" cy="496.0" r="7.1"/><circle cx="427.3" cy="496.0" r="7.1"/><circle cx="427.6" cy="496.0" r="7.1"/><circle cx="427.8" cy="496.0" r="7.1"/><circle cx="427.9" cy="496.0" r="7.1"/><circle cx="428.4" cy="491.7" r="7.1"/><circle cx="428.6" cy="491.7" r="7.1"/><circle cx="428.7" cy="491.7" r="7.1"/><circle cx="429.1" cy="491.7" r="7.1"/><circle cx="429.4" cy="491.7" r="7.1"/><circle cx="429.4" cy="491.7" r="7.1"/><circle cx="429.4" cy="491.7" r="7.1"/><circle cx="429.7" cy="491.7" r="7.1"/><circle cx="430.2" cy="491.7" r="7.1"/><circle cx="430.5" cy="491.7" r="7.1"/><circle cx="430.6" cy="491.7" r="7.1"/><circle cx="430.9" cy="491.7" r="7.1"/><circle cx="431.4" cy="491.7" r="7.1"/><circle cx="431.6" cy="491.7" r="7.1"/><circle cx="432.0" cy="487.4" r="7.1"/><circle cx="432.2" cy="487.4" r="7.1"/><circle cx="432.5" cy="487.4" r="7.1"/><circle cx="432.6" cy="487.4" r="7.1"/><circle cx="432.9" cy="487.4" r="7.1"/><circle cx="433.3" cy="487.4" r="7.1"/><circle cx="433.6" cy="487.4" r="7.1"/><circle cx="433.7" cy="487.4" r="7.1"/><circle cx="434.2" cy="487.4" r="7.1"/><circle cx="434.3" cy="487.4" r="7.1"/><circle cx="435.1" cy="487.4" r="7.1"/><circle cx="435.1" cy="487.4" r="7.1"/><circle cx="435.7" cy="487.4" r="7.1"/><circle cx="436.5" cy="483.1" r="7.1"/><circle cx="436.8" cy="483.1" r="7.1"/><circle cx="437.1" cy="483.1" r="7.1"/><circle cx="437.6" cy="483.1" r="7.1"/><circle cx="437.8" cy="483.1" r="7.1"/><circle cx="438.2" cy="483.1" r="7.1"/><circle cx="438.5" cy="483.1" r="7.1"/><circle cx="439.0" cy="483.1" r="7.1"/><circle cx="439.2" cy="483.1" r="7.1"/><circle cx="439.6" cy="478.8" r="7.1"/><circle cx="440.6" cy="478.8" r="7.1"/><circle cx="440.8" cy="478.8" r="7.1"/><circle cx="440.9" cy="478.8" r="7.1"/><circle cx="441.5" cy="478.8" r="7.1"/><circle cx="442.0" cy="478.8" r="7.1"/><circle cx="442.4" cy="478.8" r="7.1"/><circle cx="442.6" cy="478.8" r="7.1"/><circle cx="442.8" cy="478.8" r="7.1"/><circle cx="443.9" cy="474.5" r="7.1"/><circle cx="444.4" cy="474.5" r="7.1"/><circle cx="444.5" cy="474.5" r="7.1"/><circle cx="444.6" cy="474.5" r="7.1"/><circle cx="445.1" cy="474.5" r="7.1"/><circle cx="446.3" cy="474.5" r="7.1"/><circle cx="446.8" cy="474.5" r="7.1"/><circle cx="447.5" cy="474.5" r="7.1"/><circle cx="447.5" cy="474.5" r="7.1"/><circle cx="448.2" cy="474.5" r="7.1"/><circle cx="448.9" cy="470.2" r="7.1"/><circle cx="449.5" cy="470.2" r="7.1"/><circle cx="450.1" cy="470.2" r="7.1"/><circle cx="450.3" cy="470.2" r="7.1"/><circle cx="451.0" cy="470.2" r="7.1"/><circle cx="451.9" cy="470.2" r="7.1"/><circle cx="452.2" cy="470.2" r="7.1"/><circle cx="452.5" cy="470.2" r="7.1"/><circle cx="452.8" cy="470.2" r="7.1"/><circle cx="453.6" cy="470.2" r="7.1"/><circle cx="454.0" cy="470.2" r="7.1"/><circle cx="454.6" cy="470.2" r="7.1"/><circle cx="456.1" cy="465.9" r="7.1"/><circle cx="456.3" cy="465.9" r="7.1"/><circle cx="457.1" cy="465.9" r="7.1"/><circle cx="457.3" cy="465.9" r="7.1"/><circle cx="457.4" cy="465.9" r="7.1"/><circle cx="458.5" cy="465.9" r="7.1"/><circle cx="458.8" cy="461.6" r="7.1"/><circle cx="459.5" cy="461.6" r="7.1"/><circle cx="460.8" cy="461.6" r="7.1"/><circle cx="460.9" cy="461.6" r="7.1"/><circle cx="461.8" cy="461.6" r="7.1"/><circle cx="461.9" cy="461.6" r="7.1"/><circle cx="462.2" cy="461.6" r="7.1"/><circle cx="463.2" cy="461.6" r="7.1"/><circle cx="463.7" cy="457.3" r="7.1"/><circle cx="465.5" cy="457.3" r="7.1"/><circle cx="466.1" cy="457.3" r="7.1"/><circle cx="466.2" cy="457.3" r="7.1"/><circle cx="467.2" cy="457.3" r="7.1"/><circle cx="467.4" cy="457.3" r="7.1"/><circle cx="468.5" cy="457.3" r="7.1"/><circle cx="468.7" cy="457.3" r="7.1"/><circle cx="469.6" cy="453.0" r="7.1"/><circle cx="469.9" cy="453.0" r="7.1"/><circle cx="470.4" cy="453.0" r="7.1"/><circle cx="471.5" cy="453.0" r="7.1"/><circle cx="471.6" cy="453.0" r="7.1"/><circle cx="472.8" cy="448.7" r="7.1"/><circle cx="473.9" cy="448.7" r="7.1"/><circle cx="473.9" cy="448.7" r="7.1"/><circle cx="474.4" cy="448.7" r="7.1"/><circle cx="474.4" cy="448.7" r="7.1"/><circle cx="475.8" cy="444.3" r="7.1"/><circle cx="476.9" cy="444.3" r="7.1"/><circle cx="477.3" cy="444.3" r="7.1"/><circle cx="478.2" cy="440.0" r="7.1"/><circle cx="478.6" cy="440.0" r="7.1"/><circle cx="478.9" cy="440.0" r="7.1"/><circle cx="479.5" cy="440.0" r="7.1"/><circle cx="480.7" cy="440.0" r="7.1"/><circle cx="481.4" cy="435.7" r="7.1"/><circle cx="481.9" cy="435.7" r="7.1"/><circle cx="482.2" cy="435.7" r="7.1"/><circle cx="482.8" cy="435.7" r="7.1"/><circle cx="483.1" cy="435.7" r="7.1"/><circle cx="484.0" cy="435.7" r="7.1"/><circle cx="484.9" cy="435.7" r="7.1"/><circle cx="486.0" cy="431.4" r="7.1"/><circle cx="486.8" cy="431.4" r="7.1"/><circle cx="487.2" cy="431.4" r="7.1"/><circle cx="487.6" cy="431.4" r="7.1"/><circle cx="488.1" cy="431.4" r="7.1"/><circle cx="488.2" cy="431.4" r="7.1"/><circle cx="489.6" cy="427.1" r="7.1"/><circle cx="489.6" cy="427.1" r="7.1"/><circle cx="490.8" cy="427.1" r="7.1"/><circle cx="491.2" cy="427.1" r="7.1"/><circle cx="491.8" cy="422.8" r="7.1"/><circle cx="492.6" cy="422.8" r="7.1"/><circle cx="492.8" cy="422.8" r="7.1"/><circle cx="493.8" cy="422.8" r="7.1"/><circle cx="493.9" cy="422.8" r="7.1"/><circle cx="495.1" cy="418.5" r="7.1"/><circle cx="495.9" cy="418.5" r="7.1"/><circle cx="496.8" cy="418.5" r="7.1"/><circle cx="496.9" cy="418.5" r="7.1"/><circle cx="497.9" cy="414.2" r="7.1"/><circle cx="498.5" cy="414.2" r="7.1"/><circle cx="498.8" cy="414.2" r="7.1"/><circle cx="499.0" cy="414.2" r="7.1"/><circle cx="500.4" cy="409.9" r="7.1"/><circle cx="500.5" cy="409.9" r="7.1"/><circle cx="501.0" cy="409.9" r="7.1"/><circle cx="501.8" cy="405.6" r="7.1"/><circle cx="502.8" cy="405.6" r="7.1"/><circle cx="503.3" cy="405.6" r="7.1"/><circle cx="503.6" cy="401.3" r="7.1"/><circle cx="504.0" cy="401.3" r="7.1"/><circle cx="505.6" cy="401.3" r="7.1"/><circle cx="505.6" cy="401.3" r="7.1"/><circle cx="506.1" cy="397.0" r="7.1"/><circle cx="507.1" cy="397.0" r="7.1"/><circle cx="507.6" cy="397.0" r="7.1"/><circle cx="507.7" cy="397.0" r="7.1"/><circle cx="508.4" cy="397.0" r="7.1"/><circle cx="509.8" cy="392.7" r="7.1"/><circle cx="510.0" cy="392.7" r="7.1"/><circle cx="510.2" cy="392.7" r="7.1"/><circle cx="510.7" cy="392.7" r="7.1"/><circle cx="511.2" cy="388.4" r="7.1"/><circle cx="512.0" cy="388.4" r="7.1"/><circle cx="513.0" cy="388.4" r="7.1"/><circle cx="513.1" cy="388.4" r="7.1"/><circle cx="513.1" cy="388.4" r="7.1"/><circle cx="514.2" cy="384.1" r="7.1"/><circle cx="514.6" cy="384.1" r="7.1"/><circle cx="515.1" cy="384.1" r="7.1"/><circle cx="515.9" cy="384.1" r="7.1"/><circle cx="516.3" cy="379.8" r="7.1"/><circle cx="516.5" cy="379.8" r="7.1"/><circle cx="517.5" cy="379.8" r="7.1"/><circle cx="518.1" cy="379.8" r="7.1"/><circle cx="518.2" cy="379.8" r="7.1"/><circle cx="520.0" cy="375.5" r="7.1"/><circle cx="520.1" cy="375.5" r="7.1"/><circle cx="521.0" cy="375.5" r="7.1"/><circle cx="522.0" cy="375.5" r="7.1"/><circle cx="524.2" cy="371.2" r="7.1"/><circle cx="524.3" cy="371.2" r="7.1"/><circle cx="529.0" cy="366.9" r="7.1"/><circle cx="529.1" cy="366.9" r="7.1"/><circle cx="531.8" cy="362.6" r="7.1"/><circle cx="532.9" cy="362.6" r="7.1"/><circle cx="533.8" cy="358.2" r="7.1"/><circle cx="537.0" cy="358.2" r="7.1"/><circle cx="536.7" cy="356.4" r="7.1"/><circle cx="537.1" cy="355.9" r="7.1"/><circle cx="537.6" cy="355.5" r="7.1"/><circle cx="538.0" cy="355.1" r="7.1"/><circle cx="538.4" cy="354.6" r="7.1"/><circle cx="545.1" cy="350.3" r="7.1"/><circle cx="545.6" cy="341.7" r="7.1"/><circle cx="546.9" cy="338.7" r="7.1"/><circle cx="549.9" cy="335.7" r="7.1"/><circle cx="550.8" cy="335.0" r="7.1"/><circle cx="551.6" cy="334.3" r="7.1"/><circle cx="552.5" cy="333.6" r="7.1"/><circle cx="553.4" cy="332.9" r="7.1"/><circle cx="554.2" cy="332.2" r="7.1"/><circle cx="560.5" cy="332.7" r="7.1"/><circle cx="561.6" cy="326.7" r="7.1"/><circle cx="562.4" cy="326.0" r="7.1"/><circle cx="563.2" cy="325.3" r="7.1"/><circle cx="563.9" cy="324.6" r="7.1"/><circle cx="564.7" cy="323.9" r="7.1"/><circle cx="565.5" cy="323.2" r="7.1"/><circle cx="567.0" cy="320.2" r="7.1"/><circle cx="570.7" cy="316.7" r="7.1"/><circle cx="582.4" cy="316.7" r="7.1"/><circle cx="597.6" cy="311.6" r="7.1"/><circle cx="601.9" cy="302.5" r="7.1"/><circle cx="613.2" cy="298.7" r="7.1"/><circle cx="623.6" cy="293.9" r="7.1"/><circle cx="635.7" cy="290.1" r="7.1"/><circle cx="695.5" cy="268.5" r="7.1"/><circle cx="744.5" cy="234.6" r="7.1"/></g>
<line x1="113.0" y1="846.0" x2="745.15" y2="143.3" stroke="#f00" stroke-opacity="0.333" stroke-width="4.2"/>
<line x1="47.94" y1="889.54" x2="843.06" y2="99.54" stroke="#00f" stroke-opacity="0.333" stroke-width="4.2"/>
</g>
<g stroke="#000" stroke-width="1.1"><line x1="106.5" y1="880.5" x2="106.5" y2="885.9"/><line x1="53.1" y1="832.5" x2="58.5" y2="832.5"/><line x1="192.5" y1="880.5" x2="192.5" y2="885.9"/><line x1="53.1" y1="746.5" x2="58.5" y2="746.5"/><line x1="279.5" y1="880.5" x2="279.5" y2="885.9"/><line x1="53.1" y1="660.5" x2="58.5" y2="660.5"/><line x1="366.5" y1="880.5" x2="366.5" y2="885.9"/><line x1="53.1" y1="574.5" x2="58.5" y2="574.5"/><line x1="452.5" y1="880.5" x2="452.5" y2="885.9"/><line x1="53.1" y1="488.5" x2="58.5" y2="488.5"/><line x1="539.5" y1="880.5" x2="539.5" y2="885.9"/><line x1="53.1" y1="402.5" x2="58.5" y2="402.5"/><line x1="626.5" y1="880.5" x2="626.5" y2="885.9"/><line x1="53.1" y1="316.5" x2="58.5" y2="316.5"/><line x1="712.5" y1="880.5" x2="712.5" y2="885.9"/><line x1="53.1" y1="229.5" x2="58.5" y2="229.5"/><line x1="799.5" y1="880.5" x2="799.5" y2="885.9"/><line x1="53.1" y1="143.5" x2="58.5" y2="143.5"/></g>
<rect x="58.5" y="110.5" width="775.0" height="770.0" fill="none" stroke="#000" stroke-width="1.1"/>
<g font-size="13.8" opacity="0.999"><text x="106.1" y="900.9" text-anchor="middle" textLength="8.83" lengthAdjust="spacingAndGlyphs">0</text><text x="48.3" y="837.75" text-anchor="end" textLength="8.83" lengthAdjust="spacingAndGlyphs">0</text><text x="192.8" y="900.9" text-anchor="middle" textLength="8.83" lengthAdjust="spacingAndGlyphs">2</text><text x="48.3" y="751.75" text-anchor="end" textLength="8.83" lengthAdjust="spacingAndGlyphs">2</text><text x="279.4" y="900.9" text-anchor="middle" textLength="8.83" lengthAdjust="spacingAndGlyphs">4</text><text x="48.3" y="665.75" text-anchor="end" textLength="8.83" lengthAdjust="spacingAndGlyphs">4</text><text x="366.1" y="900.9" text-anchor="middle" textLength="8.83" lengthAdjust="spacingAndGlyphs">6</text><text x="48.3" y="579.75" text-anchor="end" textLength="8.83" lengthAdjust="spacingAndGlyphs">6</text><text x="452.7" y="900.9" text-anchor="middle" textLength="8.83" lengthAdjust="spacingAndGlyphs">8</text><text x="48.3" y="493.75" text-anchor="end" textLength="8.83" lengthAdjust="spacingAndGlyphs">8</text><text x="539.4" y="900.9" text-anchor="middle" textLength="16.50" lengthAdjust="spacingAndGlyphs">10</text><text x="47.9" y="407.75" text-anchor="end" textLength="16.20" lengthAdjust="spacingAndGlyphs">10</text><text x="626.1" y="900.9" text-anchor="middle" textLength="16.50" lengthAdjust="spacingAndGlyphs">12</text><text x="47.9" y="321.75" text-anchor="end" textLength="16.20" lengthAdjust="spacingAndGlyphs">12</text><text x="712.7" y="900.9" text-anchor="middle" textLength="16.50" lengthAdjust="spacingAndGlyphs">14</text><text x="47.9" y="234.75" text-anchor="end" textLength="16.20" lengthAdjust="spacingAndGlyphs">14</text><text x="799.4" y="900.9" text-anchor="middle" textLength="16.50" lengthAdjust="spacingAndGlyphs">16</text><text x="47.9" y="148.75" text-anchor="end" textLength="16.20" lengthAdjust="spacingAndGlyphs">16</text></g>
<g opacity="0.999"><text x="444.6" y="921" font-size="16.8" text-anchor="middle" textLength="84" lengthAdjust="spacingAndGlyphs">Simulated</text>
<text transform="translate(22,496.2) rotate(-90)" font-size="16.8" text-anchor="middle" textLength="79.2" lengthAdjust="spacingAndGlyphs">Observed</text></g>
</svg>
</body></html>
